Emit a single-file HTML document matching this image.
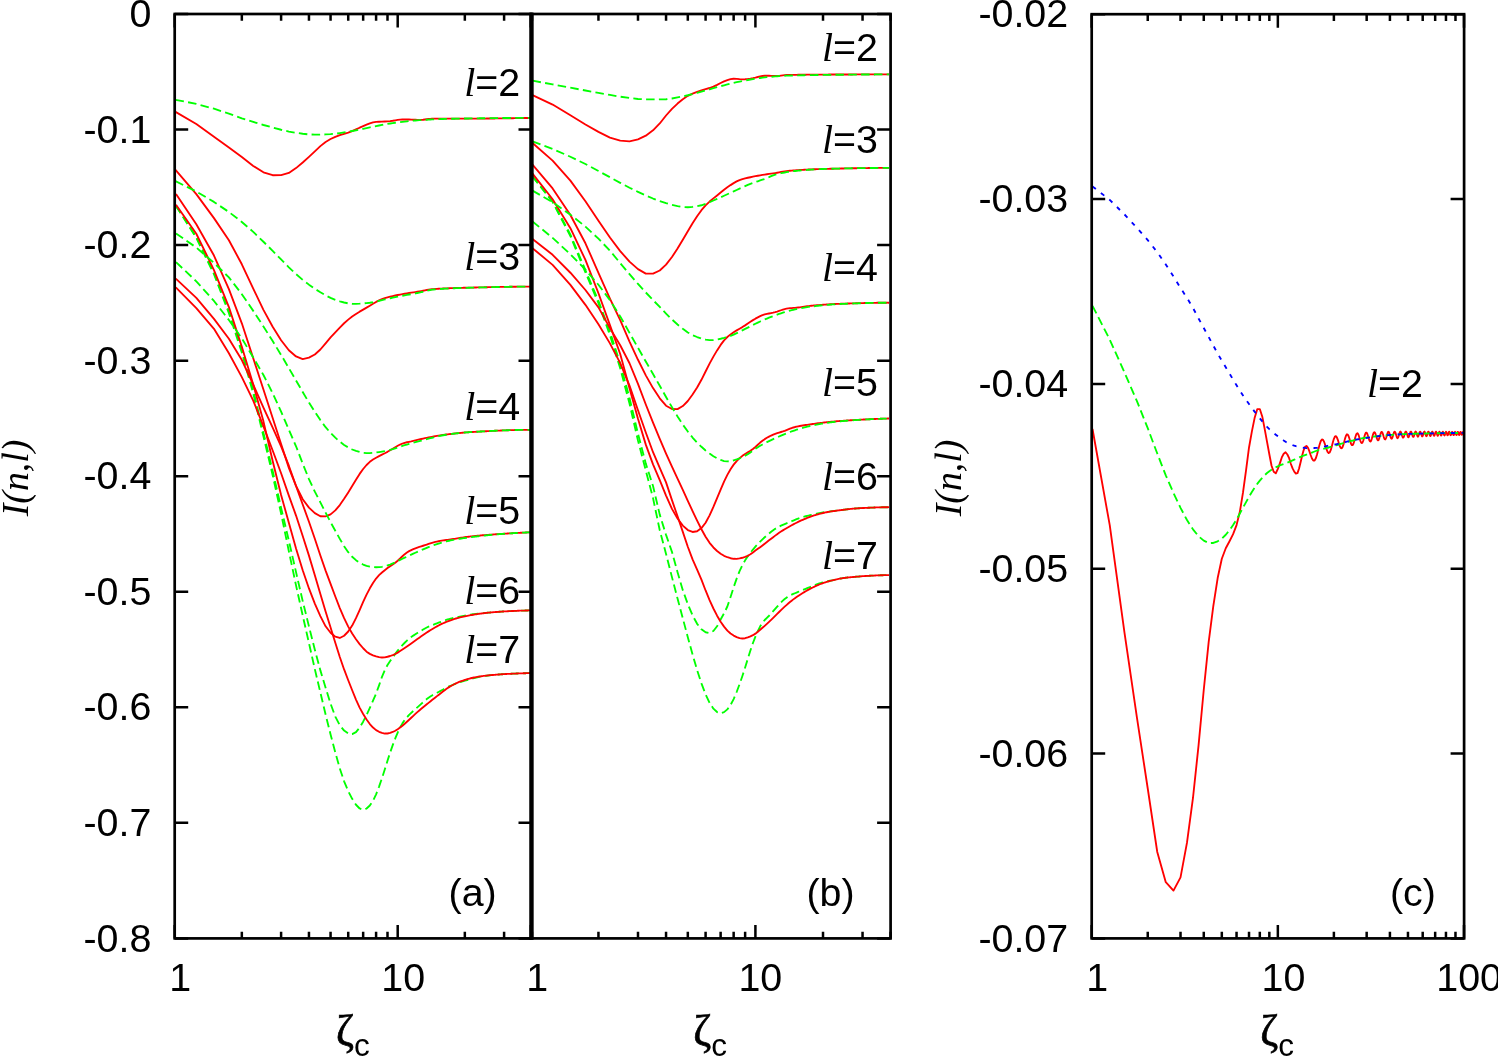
<!DOCTYPE html>
<html><head><meta charset="utf-8"><title>I(n,l) versus zeta_c</title>
<style>html,body{margin:0;padding:0;background:#fff}svg{display:block}.h{font-family:"Liberation Sans",sans-serif;font-size:39.4px;fill:#000}.t{font-family:"Liberation Serif",serif;font-style:italic;font-size:39.9px;fill:#000}.r{fill:none;stroke:#f00;stroke-width:1.85;stroke-linejoin:round}.g{fill:none;stroke:#0f0;stroke-width:1.85;stroke-dasharray:8.53 4.27;stroke-linejoin:round}.b{fill:none;stroke:#00f;stroke-width:1.85;stroke-dasharray:4.27 6.4;stroke-linejoin:round}</style></head><body>

<svg width="1498" height="1057" viewBox="0 0 1498 1057">
<rect width="1498" height="1057" fill="#fff"/>
<path class="g" d="M176 205.9 L196.31 237 L213.97 272.9 L228.9 311.17 L241.83 349.8 L253.24 390.19 L263.44 432.93 L272.67 470.96 L281.1 507.87 L288.85 540.71 L296.03 572.14 L302.71 601.16 L308.96 626.39 L314.83 649.68 L320.37 670.39 L325.6 687.69 L330.57 703.71 L335.3 716.67 L339.8 725.24 L344.11 730.55 L348.23 733.45 L352.18 734.07 L355.98 732.06 L359.63 727.66 L363.16 721.69 L366.56 714.92 L369.84 707.79 L373.01 700.69 L376.09 693.56 L379.07 685.32 L381.96 676.92 L384.77 670.16 L387.5 664.99 L390.15 660.96 L392.73 657.39 L395.25 653.9 L397.7 650.61 L400.09 647.68 L402.43 645.09 L404.7 642.76 L406.93 640.65 L409.11 638.77 L411.24 637.1 L413.32 635.61 L415.36 634.27 L417.35 633.02 L419.31 631.85 L421.23 630.7 L423.11 629.56 L424.95 628.48 L426.76 627.51 L428.54 626.69 L430.29 625.96 L432 625.29 L433.69 624.62 L435.34 623.97 L436.97 623.34 L438.57 622.73 L440.14 622.13 L441.69 621.55 L443.22 620.98 L444.72 620.45 L446.2 619.94 L447.66 619.47 L449.09 619.05 L450.5 618.66 L451.9 618.31 L453.27 617.98 L454.63 617.68 L455.96 617.39 L457.28 617.11 L458.58 616.85 L459.86 616.59 L461.13 616.33 L462.38 616.08 L463.61 615.83 L464.83 615.59 L466.03 615.36 L467.22 615.13 L468.4 614.92 L469.55 614.72 L470.7 614.54 L471.83 614.37 L472.95 614.22 L474.06 614.08 L475.15 613.95 L476.24 613.83 L477.31 613.71 L478.37 613.61 L479.41 613.5 L480.45 613.4 L481.47 613.3 L482.49 613.21 L483.49 613.11 L484.48 613.02 L485.47 612.92 L486.44 612.83 L487.4 612.74 L488.36 612.66 L489.3 612.57 L490.24 612.49 L491.17 612.41 L492.08 612.33 L492.99 612.26 L493.89 612.18 L494.79 612.11 L495.67 612.04 L496.55 611.97 L497.42 611.9 L498.28 611.84 L499.13 611.77 L499.98 611.71 L500.81 611.65 L501.65 611.59 L502.47 611.53 L503.29 611.48 L504.1 611.43 L504.9 611.38 L505.7 611.34 L506.49 611.3 L507.27 611.25 L508.05 611.22 L508.82 611.18 L509.59 611.14 L510.35 611.1 L511.1 611.07 L511.85 611.03 L512.59 611 L513.33 610.96 L514.06 610.93 L514.78 610.9 L515.51 610.87 L516.22 610.84 L516.93 610.81 L517.63 610.78 L518.33 610.75 L519.03 610.73 L519.72 610.7 L520.4 610.67 L521.08 610.65 L521.76 610.63 L522.43 610.61 L523.09 610.58 L523.75 610.56 L524.41 610.55 L525.06 610.53 L525.71 610.51 L526.35 610.49 L526.99 610.48 L527.63 610.46 L528.26 610.45 L528.88 610.44 L529.51 610.43 L530.13 610.42 L530.74 610.4 L531 610.4"/>
<path class="g" d="M176 205.9 L196.31 237.82 L213.97 274.21 L228.9 313.11 L241.83 352.58 L253.24 393.49 L263.44 436.28 L272.67 475.18 L281.1 513.55 L288.85 551.21 L296.03 585.41 L302.71 615.47 L308.96 643.12 L314.83 669.11 L320.37 692.54 L325.6 714.54 L330.57 734.43 L335.3 752.5 L339.8 768.44 L344.11 781.3 L348.23 791.19 L352.18 798.85 L355.98 804.74 L359.63 808.48 L363.16 809.77 L366.56 808.53 L369.84 805.52 L373.01 800.77 L376.09 794.32 L379.07 786.58 L381.96 778.23 L384.77 769.55 L387.5 760.79 L390.15 752.5 L392.73 745.09 L395.25 738.47 L397.7 732.57 L400.09 727.5 L402.43 723.37 L404.7 720.02 L406.93 717.28 L409.11 714.96 L411.24 712.9 L413.32 710.96 L415.36 709.11 L417.35 707.33 L419.31 705.58 L421.23 703.84 L423.11 702.15 L424.95 700.56 L426.76 699.09 L428.54 697.75 L430.29 696.52 L432 695.43 L433.69 694.46 L435.34 693.6 L436.97 692.79 L438.57 691.98 L440.14 691.15 L441.69 690.3 L443.22 689.45 L444.72 688.62 L446.2 687.85 L447.66 687.13 L449.09 686.46 L450.5 685.83 L451.9 685.24 L453.27 684.68 L454.63 684.15 L455.96 683.64 L457.28 683.16 L458.58 682.7 L459.86 682.26 L461.13 681.84 L462.38 681.44 L463.61 681.06 L464.83 680.69 L466.03 680.34 L467.22 680 L468.4 679.68 L469.55 679.35 L470.7 679.04 L471.83 678.73 L472.95 678.44 L474.06 678.15 L475.15 677.87 L476.24 677.6 L477.31 677.35 L478.37 677.11 L479.41 676.89 L480.45 676.68 L481.47 676.48 L482.49 676.31 L483.49 676.14 L484.48 675.99 L485.47 675.85 L486.44 675.71 L487.4 675.59 L488.36 675.47 L489.3 675.36 L490.24 675.26 L491.17 675.16 L492.08 675.07 L492.99 674.98 L493.89 674.9 L494.79 674.82 L495.67 674.74 L496.55 674.67 L497.42 674.59 L498.28 674.53 L499.13 674.46 L499.98 674.4 L500.81 674.34 L501.65 674.28 L502.47 674.23 L503.29 674.18 L504.1 674.13 L504.9 674.08 L505.7 674.04 L506.49 673.99 L507.27 673.95 L508.05 673.91 L508.82 673.88 L509.59 673.84 L510.35 673.8 L511.1 673.77 L511.85 673.73 L512.59 673.7 L513.33 673.66 L514.06 673.63 L514.78 673.6 L515.51 673.57 L516.22 673.54 L516.93 673.51 L517.63 673.48 L518.33 673.45 L519.03 673.43 L519.72 673.4 L520.4 673.37 L521.08 673.35 L521.76 673.33 L522.43 673.31 L523.09 673.28 L523.75 673.26 L524.41 673.25 L525.06 673.23 L525.71 673.21 L526.35 673.19 L526.99 673.18 L527.63 673.16 L528.26 673.15 L528.88 673.14 L529.51 673.13 L530.13 673.12 L530.74 673.1 L531 673.1"/>
<path class="r" d="M175.5 111.9 L196.31 124.07 L213.97 136.69 L228.9 147.6 L241.83 157.05 L253.24 165.95 L263.44 172.34 L272.67 175.23 L281.1 175.18 L288.85 172.95 L296.03 168.09 L302.71 162.46 L308.96 156.82 L314.83 151.37 L320.37 146.12 L325.6 141.96 L330.57 139.03 L335.3 136.79 L339.8 135.08 L344.11 133.81 L348.23 132.61 L352.18 131.18 L355.98 129.46 L359.63 127.71 L363.16 126.14 L366.56 124.7 L369.84 123.38 L373.01 122.41 L376.09 121.92 L379.07 121.73 L381.96 121.63 L384.77 121.54 L387.5 121.4 L390.15 121.15 L392.73 120.77 L395.25 120.34 L397.7 119.93 L400.09 119.63 L402.43 119.47 L404.7 119.44 L406.93 119.47 L409.11 119.54 L411.24 119.63 L413.32 119.71 L415.36 119.79 L417.35 119.84 L419.31 119.87 L421.23 119.83 L423.11 119.71 L424.95 119.5 L426.76 119.26 L428.54 119.01 L430.29 118.81 L432 118.68 L433.69 118.62 L435.34 118.6 L436.97 118.6 L438.57 118.6 L440.14 118.6 L441.69 118.6 L443.22 118.6 L444.72 118.6 L446.2 118.6 L447.66 118.6 L449.09 118.6 L450.5 118.6 L451.9 118.6 L453.27 118.6 L454.63 118.6 L455.96 118.6 L457.28 118.6 L458.58 118.6 L459.86 118.6 L461.13 118.6 L462.38 118.6 L463.61 118.6 L464.83 118.6 L466.03 118.6 L467.22 118.6 L468.4 118.6 L469.55 118.6 L470.7 118.6 L471.83 118.6 L472.95 118.6 L474.06 118.6 L475.15 118.59 L476.24 118.59 L477.31 118.59 L478.37 118.58 L479.41 118.58 L480.45 118.58 L481.47 118.57 L482.49 118.56 L483.49 118.56 L484.48 118.55 L485.47 118.55 L486.44 118.54 L487.4 118.53 L488.36 118.52 L489.3 118.52 L490.24 118.51 L491.17 118.5 L492.08 118.49 L492.99 118.48 L493.89 118.47 L494.79 118.46 L495.67 118.45 L496.55 118.44 L497.42 118.43 L498.28 118.42 L499.13 118.41 L499.98 118.4 L500.81 118.39 L501.65 118.38 L502.47 118.37 L503.29 118.36 L504.1 118.35 L504.9 118.34 L505.7 118.33 L506.49 118.31 L507.27 118.3 L508.05 118.29 L508.82 118.28 L509.59 118.27 L510.35 118.26 L511.1 118.25 L511.85 118.23 L512.59 118.22 L513.33 118.21 L514.06 118.2 L514.78 118.19 L515.51 118.18 L516.22 118.16 L516.93 118.15 L517.63 118.14 L518.33 118.13 L519.03 118.12 L519.72 118.1 L520.4 118.09 L521.08 118.08 L521.76 118.07 L522.43 118.06 L523.09 118.04 L523.75 118.03 L524.41 118.02 L525.06 118.01 L525.71 118 L526.35 117.99 L526.99 117.97 L527.63 117.96 L528.26 117.95 L528.88 117.94 L529.51 117.93 L530.13 117.92 L530.74 117.9 L531 117.9"/>
<path class="r" d="M175.5 169.8 L196.31 194.15 L213.97 218.13 L228.9 240.21 L241.83 264.27 L253.24 288.63 L263.44 309.86 L272.67 326.78 L281.1 340.24 L288.85 350.23 L296.03 356.43 L302.71 359.05 L308.96 357.65 L314.83 354.45 L320.37 349.5 L325.6 343.33 L330.57 337.41 L335.3 332.29 L339.8 327.56 L344.11 323.27 L348.23 319.64 L352.18 316.56 L355.98 313.94 L359.63 311.66 L363.16 309.59 L366.56 307.65 L369.84 305.74 L373.01 303.8 L376.09 301.92 L379.07 300.33 L381.96 299.13 L384.77 298.18 L387.5 297.39 L390.15 296.69 L392.73 296.08 L395.25 295.52 L397.7 295.01 L400.09 294.55 L402.43 294.13 L404.7 293.74 L406.93 293.37 L409.11 293.03 L411.24 292.69 L413.32 292.37 L415.36 292.05 L417.35 291.73 L419.31 291.4 L421.23 291.07 L423.11 290.72 L424.95 290.36 L426.76 290.02 L428.54 289.72 L430.29 289.45 L432 289.24 L433.69 289.09 L435.34 288.96 L436.97 288.85 L438.57 288.76 L440.14 288.67 L441.69 288.58 L443.22 288.5 L444.72 288.43 L446.2 288.36 L447.66 288.3 L449.09 288.24 L450.5 288.19 L451.9 288.13 L453.27 288.09 L454.63 288.04 L455.96 288 L457.28 287.96 L458.58 287.92 L459.86 287.88 L461.13 287.85 L462.38 287.81 L463.61 287.78 L464.83 287.75 L466.03 287.72 L467.22 287.69 L468.4 287.66 L469.55 287.63 L470.7 287.6 L471.83 287.58 L472.95 287.55 L474.06 287.52 L475.15 287.5 L476.24 287.47 L477.31 287.44 L478.37 287.42 L479.41 287.39 L480.45 287.37 L481.47 287.35 L482.49 287.32 L483.49 287.3 L484.48 287.28 L485.47 287.25 L486.44 287.23 L487.4 287.21 L488.36 287.19 L489.3 287.17 L490.24 287.15 L491.17 287.13 L492.08 287.11 L492.99 287.09 L493.89 287.07 L494.79 287.05 L495.67 287.04 L496.55 287.02 L497.42 287 L498.28 286.98 L499.13 286.97 L499.98 286.95 L500.81 286.94 L501.65 286.92 L502.47 286.91 L503.29 286.89 L504.1 286.88 L504.9 286.87 L505.7 286.85 L506.49 286.84 L507.27 286.83 L508.05 286.81 L508.82 286.8 L509.59 286.79 L510.35 286.78 L511.1 286.77 L511.85 286.76 L512.59 286.75 L513.33 286.74 L514.06 286.73 L514.78 286.72 L515.51 286.71 L516.22 286.71 L516.93 286.7 L517.63 286.69 L518.33 286.68 L519.03 286.68 L519.72 286.67 L520.4 286.66 L521.08 286.66 L521.76 286.65 L522.43 286.65 L523.09 286.64 L523.75 286.64 L524.41 286.63 L525.06 286.63 L525.71 286.62 L526.35 286.62 L526.99 286.62 L527.63 286.61 L528.26 286.61 L528.88 286.61 L529.51 286.61 L530.13 286.6 L530.74 286.6 L531 286.6"/>
<path class="r" d="M176 193.9 L196.31 224.23 L213.97 255.52 L228.9 289.19 L241.83 323.31 L253.24 358.24 L263.44 389.58 L272.67 417.96 L281.1 443.93 L288.85 467.87 L296.03 485.91 L302.71 499.26 L308.96 507.66 L314.83 513.17 L320.37 516.28 L325.6 516.42 L330.57 514.34 L335.3 510.4 L339.8 505.05 L344.11 498.83 L348.23 492.44 L352.18 486.03 L355.98 479.78 L359.63 473.91 L363.16 468.99 L366.56 464.98 L369.84 461.85 L373.01 459.54 L376.09 457.72 L379.07 456.12 L381.96 454.66 L384.77 453.27 L387.5 451.81 L390.15 450.25 L392.73 448.67 L395.25 447.19 L397.7 445.8 L400.09 444.54 L402.43 443.52 L404.7 442.79 L406.93 442.26 L409.11 441.84 L411.24 441.41 L413.32 440.93 L415.36 440.42 L417.35 439.91 L419.31 439.42 L421.23 438.98 L423.11 438.57 L424.95 438.18 L426.76 437.81 L428.54 437.46 L430.29 437.12 L432 436.79 L433.69 436.48 L435.34 436.19 L436.97 435.91 L438.57 435.65 L440.14 435.4 L441.69 435.16 L443.22 434.94 L444.72 434.74 L446.2 434.54 L447.66 434.36 L449.09 434.18 L450.5 434.01 L451.9 433.84 L453.27 433.68 L454.63 433.53 L455.96 433.38 L457.28 433.24 L458.58 433.1 L459.86 432.98 L461.13 432.86 L462.38 432.74 L463.61 432.63 L464.83 432.53 L466.03 432.43 L467.22 432.34 L468.4 432.26 L469.55 432.18 L470.7 432.11 L471.83 432.04 L472.95 431.97 L474.06 431.91 L475.15 431.85 L476.24 431.78 L477.31 431.72 L478.37 431.66 L479.41 431.6 L480.45 431.54 L481.47 431.48 L482.49 431.43 L483.49 431.37 L484.48 431.32 L485.47 431.26 L486.44 431.21 L487.4 431.16 L488.36 431.11 L489.3 431.06 L490.24 431.01 L491.17 430.97 L492.08 430.92 L492.99 430.87 L493.89 430.83 L494.79 430.79 L495.67 430.74 L496.55 430.7 L497.42 430.66 L498.28 430.62 L499.13 430.59 L499.98 430.55 L500.81 430.51 L501.65 430.48 L502.47 430.44 L503.29 430.41 L504.1 430.38 L504.9 430.35 L505.7 430.32 L506.49 430.29 L507.27 430.26 L508.05 430.23 L508.82 430.21 L509.59 430.18 L510.35 430.16 L511.1 430.13 L511.85 430.11 L512.59 430.09 L513.33 430.07 L514.06 430.05 L514.78 430.03 L515.51 430.01 L516.22 429.99 L516.93 429.97 L517.63 429.96 L518.33 429.94 L519.03 429.93 L519.72 429.91 L520.4 429.9 L521.08 429.89 L521.76 429.88 L522.43 429.87 L523.09 429.86 L523.75 429.85 L524.41 429.84 L525.06 429.84 L525.71 429.83 L526.35 429.82 L526.99 429.82 L527.63 429.81 L528.26 429.81 L528.88 429.81 L529.51 429.8 L530.13 429.8 L530.74 429.8 L531 429.8"/>
<path class="r" d="M176 204.7 L196.31 233.78 L213.97 270.04 L228.9 307.06 L241.83 346.75 L253.24 384.41 L263.44 421.34 L272.67 460.92 L281.1 495.05 L288.85 522.85 L296.03 548.48 L302.71 570.22 L308.96 588.44 L314.83 603.56 L320.37 616.05 L325.6 626.3 L330.57 632.73 L335.3 636.72 L339.8 637.95 L344.11 635.76 L348.23 631.5 L352.18 625.6 L355.98 618.13 L359.63 610.11 L363.16 601.92 L366.56 594.56 L369.84 588.33 L373.01 582.94 L376.09 578.54 L379.07 575.15 L381.96 572.47 L384.77 570.17 L387.5 568.09 L390.15 566.2 L392.73 564.44 L395.25 562.66 L397.7 560.7 L400.09 558.49 L402.43 556.22 L404.7 554.14 L406.93 552.44 L409.11 551.13 L411.24 550.06 L413.32 549.15 L415.36 548.35 L417.35 547.63 L419.31 546.98 L421.23 546.35 L423.11 545.75 L424.95 545.14 L426.76 544.54 L428.54 543.95 L430.29 543.37 L432 542.84 L433.69 542.35 L435.34 541.92 L436.97 541.54 L438.57 541.22 L440.14 540.94 L441.69 540.68 L443.22 540.45 L444.72 540.23 L446.2 540.02 L447.66 539.82 L449.09 539.63 L450.5 539.44 L451.9 539.24 L453.27 539.04 L454.63 538.83 L455.96 538.62 L457.28 538.41 L458.58 538.2 L459.86 537.99 L461.13 537.78 L462.38 537.58 L463.61 537.38 L464.83 537.2 L466.03 537.02 L467.22 536.86 L468.4 536.71 L469.55 536.56 L470.7 536.43 L471.83 536.31 L472.95 536.19 L474.06 536.07 L475.15 535.96 L476.24 535.86 L477.31 535.76 L478.37 535.66 L479.41 535.56 L480.45 535.47 L481.47 535.38 L482.49 535.29 L483.49 535.21 L484.48 535.13 L485.47 535.05 L486.44 534.97 L487.4 534.9 L488.36 534.82 L489.3 534.75 L490.24 534.68 L491.17 534.61 L492.08 534.55 L492.99 534.48 L493.89 534.42 L494.79 534.35 L495.67 534.29 L496.55 534.23 L497.42 534.17 L498.28 534.12 L499.13 534.06 L499.98 534 L500.81 533.95 L501.65 533.89 L502.47 533.84 L503.29 533.79 L504.1 533.73 L504.9 533.68 L505.7 533.63 L506.49 533.58 L507.27 533.54 L508.05 533.49 L508.82 533.44 L509.59 533.39 L510.35 533.35 L511.1 533.3 L511.85 533.26 L512.59 533.22 L513.33 533.17 L514.06 533.13 L514.78 533.09 L515.51 533.05 L516.22 533.01 L516.93 532.97 L517.63 532.93 L518.33 532.9 L519.03 532.86 L519.72 532.82 L520.4 532.79 L521.08 532.75 L521.76 532.72 L522.43 532.69 L523.09 532.66 L523.75 532.62 L524.41 532.59 L525.06 532.56 L525.71 532.53 L526.35 532.5 L526.99 532.47 L527.63 532.44 L528.26 532.42 L528.88 532.39 L529.51 532.36 L530.13 532.34 L530.74 532.31 L531 532.3"/>
<path class="r" d="M175.8 278.6 L196.31 297.91 L213.97 318.93 L228.9 338.69 L241.83 359.99 L253.24 384.67 L263.44 407.64 L272.67 427.72 L281.1 446.44 L288.85 465.69 L296.03 485.99 L302.71 504.48 L308.96 521.71 L314.83 538.69 L320.37 555.52 L325.6 570.61 L330.57 583.94 L335.3 596.46 L339.8 608.07 L344.11 618.13 L348.23 626.6 L352.18 633.51 L355.98 639.27 L359.63 644.08 L363.16 648.26 L366.56 651.64 L369.84 653.88 L373.01 655.36 L376.09 656.47 L379.07 657.2 L381.96 657.48 L384.77 657.3 L387.5 656.76 L390.15 656 L392.73 655.11 L395.25 654 L397.7 652.63 L400.09 651.09 L402.43 649.53 L404.7 648 L406.93 646.49 L409.11 644.97 L411.24 643.46 L413.32 641.98 L415.36 640.53 L417.35 639.11 L419.31 637.71 L421.23 636.34 L423.11 635.02 L424.95 633.75 L426.76 632.54 L428.54 631.39 L430.29 630.27 L432 629.21 L433.69 628.19 L435.34 627.23 L436.97 626.33 L438.57 625.49 L440.14 624.69 L441.69 623.94 L443.22 623.22 L444.72 622.55 L446.2 621.92 L447.66 621.33 L449.09 620.78 L450.5 620.27 L451.9 619.79 L453.27 619.34 L454.63 618.91 L455.96 618.51 L457.28 618.14 L458.58 617.78 L459.86 617.45 L461.13 617.14 L462.38 616.85 L463.61 616.57 L464.83 616.31 L466.03 616.06 L467.22 615.82 L468.4 615.59 L469.55 615.38 L470.7 615.17 L471.83 614.97 L472.95 614.78 L474.06 614.59 L475.15 614.41 L476.24 614.24 L477.31 614.07 L478.37 613.91 L479.41 613.76 L480.45 613.62 L481.47 613.48 L482.49 613.35 L483.49 613.22 L484.48 613.11 L485.47 613 L486.44 612.89 L487.4 612.79 L488.36 612.69 L489.3 612.6 L490.24 612.51 L491.17 612.43 L492.08 612.34 L492.99 612.26 L493.89 612.19 L494.79 612.11 L495.67 612.04 L496.55 611.97 L497.42 611.9 L498.28 611.83 L499.13 611.77 L499.98 611.71 L500.81 611.65 L501.65 611.59 L502.47 611.53 L503.29 611.48 L504.1 611.43 L504.9 611.38 L505.7 611.34 L506.49 611.3 L507.27 611.25 L508.05 611.22 L508.82 611.18 L509.59 611.14 L510.35 611.1 L511.1 611.07 L511.85 611.03 L512.59 611 L513.33 610.96 L514.06 610.93 L514.78 610.9 L515.51 610.87 L516.22 610.84 L516.93 610.81 L517.63 610.78 L518.33 610.75 L519.03 610.73 L519.72 610.7 L520.4 610.67 L521.08 610.65 L521.76 610.63 L522.43 610.61 L523.09 610.58 L523.75 610.56 L524.41 610.55 L525.06 610.53 L525.71 610.51 L526.35 610.49 L526.99 610.48 L527.63 610.46 L528.26 610.45 L528.88 610.44 L529.51 610.43 L530.13 610.42 L530.74 610.4 L531 610.4"/>
<path class="r" d="M175.8 287.4 L196.31 308.06 L213.97 328.84 L228.9 353.23 L241.83 377.13 L253.24 400.63 L263.44 426.39 L272.67 450.53 L281.1 473.21 L288.85 495.6 L296.03 515.57 L302.71 535.96 L308.96 555.63 L314.83 575.28 L320.37 594.06 L325.6 611.41 L330.57 627.49 L335.3 642.74 L339.8 657.05 L344.11 669.44 L348.23 680.27 L352.18 690.23 L355.98 699.61 L359.63 707.59 L363.16 714.04 L366.56 719.49 L369.84 724.07 L373.01 727.57 L376.09 730.13 L379.07 731.82 L381.96 732.93 L384.77 733.53 L387.5 733.51 L390.15 732.92 L392.73 731.97 L395.25 730.78 L397.7 729.29 L400.09 727.56 L402.43 725.72 L404.7 723.78 L406.93 721.76 L409.11 719.74 L411.24 717.76 L413.32 715.82 L415.36 713.93 L417.35 712.13 L419.31 710.44 L421.23 708.83 L423.11 707.29 L424.95 705.78 L426.76 704.31 L428.54 702.86 L430.29 701.45 L432 700.07 L433.69 698.72 L435.34 697.41 L436.97 696.14 L438.57 694.9 L440.14 693.69 L441.69 692.5 L443.22 691.33 L444.72 690.19 L446.2 689.1 L447.66 688.07 L449.09 687.13 L450.5 686.27 L451.9 685.47 L453.27 684.73 L454.63 684.04 L455.96 683.39 L457.28 682.78 L458.58 682.22 L459.86 681.7 L461.13 681.21 L462.38 680.76 L463.61 680.33 L464.83 679.93 L466.03 679.56 L467.22 679.2 L468.4 678.87 L469.55 678.56 L470.7 678.27 L471.83 678.01 L472.95 677.75 L474.06 677.52 L475.15 677.3 L476.24 677.08 L477.31 676.89 L478.37 676.7 L479.41 676.52 L480.45 676.36 L481.47 676.21 L482.49 676.06 L483.49 675.93 L484.48 675.81 L485.47 675.69 L486.44 675.58 L487.4 675.48 L488.36 675.38 L489.3 675.29 L490.24 675.2 L491.17 675.12 L492.08 675.04 L492.99 674.96 L493.89 674.89 L494.79 674.81 L495.67 674.74 L496.55 674.67 L497.42 674.6 L498.28 674.53 L499.13 674.47 L499.98 674.41 L500.81 674.35 L501.65 674.29 L502.47 674.23 L503.29 674.18 L504.1 674.13 L504.9 674.08 L505.7 674.04 L506.49 674 L507.27 673.95 L508.05 673.92 L508.82 673.88 L509.59 673.84 L510.35 673.8 L511.1 673.77 L511.85 673.73 L512.59 673.7 L513.33 673.66 L514.06 673.63 L514.78 673.6 L515.51 673.57 L516.22 673.54 L516.93 673.51 L517.63 673.48 L518.33 673.45 L519.03 673.43 L519.72 673.4 L520.4 673.37 L521.08 673.35 L521.76 673.33 L522.43 673.31 L523.09 673.28 L523.75 673.26 L524.41 673.25 L525.06 673.23 L525.71 673.21 L526.35 673.19 L526.99 673.18 L527.63 673.16 L528.26 673.15 L528.88 673.14 L529.51 673.13 L530.13 673.12 L530.74 673.1 L531 673.1"/>
<path class="g" d="M175.5 99.8 L196.31 103.91 L213.97 108.73 L228.9 113.6 L241.83 118.26 L253.24 121.95 L263.44 125.01 L272.67 127.53 L281.1 129.75 L288.85 131.56 L296.03 132.8 L302.71 133.71 L308.96 134.39 L314.83 134.67 L320.37 134.62 L325.6 134.43 L330.57 134.17 L335.3 133.73 L339.8 133.09 L344.11 132.41 L348.23 131.73 L352.18 131.02 L355.98 130.29 L359.63 129.57 L363.16 128.84 L366.56 128.11 L369.84 127.39 L373.01 126.71 L376.09 126.09 L379.07 125.51 L381.96 124.96 L384.77 124.44 L387.5 123.96 L390.15 123.51 L392.73 123.11 L395.25 122.76 L397.7 122.43 L400.09 122.13 L402.43 121.84 L404.7 121.58 L406.93 121.33 L409.11 121.09 L411.24 120.88 L413.32 120.68 L415.36 120.5 L417.35 120.34 L419.31 120.19 L421.23 120.06 L423.11 119.94 L424.95 119.82 L426.76 119.72 L428.54 119.61 L430.29 119.51 L432 119.42 L433.69 119.34 L435.34 119.26 L436.97 119.19 L438.57 119.12 L440.14 119.06 L441.69 119.01 L443.22 118.97 L444.72 118.93 L446.2 118.89 L447.66 118.86 L449.09 118.83 L450.5 118.8 L451.9 118.77 L453.27 118.75 L454.63 118.72 L455.96 118.69 L457.28 118.67 L458.58 118.64 L459.86 118.62 L461.13 118.6 L462.38 118.57 L463.61 118.55 L464.83 118.53 L466.03 118.51 L467.22 118.49 L468.4 118.47 L469.55 118.45 L470.7 118.43 L471.83 118.41 L472.95 118.39 L474.06 118.37 L475.15 118.36 L476.24 118.34 L477.31 118.33 L478.37 118.31 L479.41 118.29 L480.45 118.28 L481.47 118.27 L482.49 118.25 L483.49 118.24 L484.48 118.22 L485.47 118.21 L486.44 118.2 L487.4 118.19 L488.36 118.17 L489.3 118.16 L490.24 118.15 L491.17 118.14 L492.08 118.13 L492.99 118.12 L493.89 118.11 L494.79 118.1 L495.67 118.09 L496.55 118.08 L497.42 118.07 L498.28 118.07 L499.13 118.06 L499.98 118.05 L500.81 118.04 L501.65 118.03 L502.47 118.03 L503.29 118.02 L504.1 118.01 L504.9 118.01 L505.7 118 L506.49 117.99 L507.27 117.99 L508.05 117.98 L508.82 117.98 L509.59 117.97 L510.35 117.97 L511.1 117.96 L511.85 117.96 L512.59 117.95 L513.33 117.95 L514.06 117.95 L514.78 117.94 L515.51 117.94 L516.22 117.94 L516.93 117.93 L517.63 117.93 L518.33 117.93 L519.03 117.92 L519.72 117.92 L520.4 117.92 L521.08 117.92 L521.76 117.91 L522.43 117.91 L523.09 117.91 L523.75 117.91 L524.41 117.91 L525.06 117.91 L525.71 117.91 L526.35 117.9 L526.99 117.9 L527.63 117.9 L528.26 117.9 L528.88 117.9 L529.51 117.9 L530.13 117.9 L530.74 117.9 L531 117.9"/>
<path class="g" d="M175.5 181.2 L196.31 191.52 L213.97 201.92 L228.9 212.02 L241.83 221.94 L253.24 231.88 L263.44 241.75 L272.67 250.85 L281.1 259.45 L288.85 267.32 L296.03 274.13 L302.71 279.84 L308.96 284.64 L314.83 288.79 L320.37 292.28 L325.6 295.32 L330.57 297.94 L335.3 299.93 L339.8 301.34 L344.11 302.5 L348.23 303.36 L352.18 303.8 L355.98 303.84 L359.63 303.68 L363.16 303.42 L366.56 303.09 L369.84 302.73 L373.01 302.26 L376.09 301.63 L379.07 300.9 L381.96 300.15 L384.77 299.44 L387.5 298.8 L390.15 298.23 L392.73 297.69 L395.25 297.17 L397.7 296.67 L400.09 296.19 L402.43 295.73 L404.7 295.3 L406.93 294.89 L409.11 294.5 L411.24 294.12 L413.32 293.75 L415.36 293.38 L417.35 293.01 L419.31 292.62 L421.23 292.2 L423.11 291.74 L424.95 291.26 L426.76 290.79 L428.54 290.35 L430.29 289.98 L432 289.7 L433.69 289.49 L435.34 289.33 L436.97 289.2 L438.57 289.08 L440.14 288.96 L441.69 288.86 L443.22 288.77 L444.72 288.68 L446.2 288.6 L447.66 288.52 L449.09 288.45 L450.5 288.38 L451.9 288.32 L453.27 288.26 L454.63 288.21 L455.96 288.16 L457.28 288.11 L458.58 288.06 L459.86 288.02 L461.13 287.98 L462.38 287.94 L463.61 287.9 L464.83 287.87 L466.03 287.83 L467.22 287.8 L468.4 287.77 L469.55 287.73 L470.7 287.7 L471.83 287.67 L472.95 287.64 L474.06 287.61 L475.15 287.58 L476.24 287.55 L477.31 287.52 L478.37 287.49 L479.41 287.47 L480.45 287.44 L481.47 287.41 L482.49 287.38 L483.49 287.36 L484.48 287.33 L485.47 287.31 L486.44 287.28 L487.4 287.26 L488.36 287.23 L489.3 287.21 L490.24 287.19 L491.17 287.16 L492.08 287.14 L492.99 287.12 L493.89 287.1 L494.79 287.08 L495.67 287.06 L496.55 287.04 L497.42 287.02 L498.28 287 L499.13 286.98 L499.98 286.96 L500.81 286.95 L501.65 286.93 L502.47 286.91 L503.29 286.9 L504.1 286.88 L504.9 286.87 L505.7 286.85 L506.49 286.84 L507.27 286.82 L508.05 286.81 L508.82 286.8 L509.59 286.79 L510.35 286.77 L511.1 286.76 L511.85 286.75 L512.59 286.74 L513.33 286.73 L514.06 286.72 L514.78 286.71 L515.51 286.7 L516.22 286.69 L516.93 286.68 L517.63 286.68 L518.33 286.67 L519.03 286.66 L519.72 286.66 L520.4 286.65 L521.08 286.64 L521.76 286.64 L522.43 286.63 L523.09 286.63 L523.75 286.62 L524.41 286.62 L525.06 286.62 L525.71 286.61 L526.35 286.61 L526.99 286.61 L527.63 286.61 L528.26 286.61 L528.88 286.6 L529.51 286.6 L530.13 286.6 L530.74 286.6 L531 286.6"/>
<path class="g" d="M176 233.5 L196.31 247.55 L213.97 262.84 L228.9 277.38 L241.83 294.15 L253.24 310.86 L263.44 326.46 L272.67 341.1 L281.1 354.94 L288.85 368.13 L296.03 380.43 L302.71 392.01 L308.96 402.58 L314.83 411.81 L320.37 420.1 L325.6 427.19 L330.57 432.9 L335.3 437.68 L339.8 441.7 L344.11 444.92 L348.23 447.47 L352.18 449.49 L355.98 450.95 L359.63 452 L363.16 452.77 L366.56 453.12 L369.84 453.09 L373.01 452.85 L376.09 452.5 L379.07 452.07 L381.96 451.6 L384.77 451.1 L387.5 450.57 L390.15 449.93 L392.73 449.17 L395.25 448.34 L397.7 447.48 L400.09 446.65 L402.43 445.88 L404.7 445.19 L406.93 444.54 L409.11 443.93 L411.24 443.34 L413.32 442.77 L415.36 442.22 L417.35 441.69 L419.31 441.18 L421.23 440.67 L423.11 440.17 L424.95 439.68 L426.76 439.19 L428.54 438.7 L430.29 438.23 L432 437.78 L433.69 437.34 L435.34 436.93 L436.97 436.54 L438.57 436.17 L440.14 435.83 L441.69 435.51 L443.22 435.23 L444.72 434.97 L446.2 434.74 L447.66 434.52 L449.09 434.32 L450.5 434.13 L451.9 433.94 L453.27 433.77 L454.63 433.6 L455.96 433.44 L457.28 433.29 L458.58 433.14 L459.86 433.01 L461.13 432.88 L462.38 432.76 L463.61 432.65 L464.83 432.54 L466.03 432.44 L467.22 432.35 L468.4 432.27 L469.55 432.19 L470.7 432.11 L471.83 432.04 L472.95 431.97 L474.06 431.91 L475.15 431.84 L476.24 431.78 L477.31 431.71 L478.37 431.65 L479.41 431.59 L480.45 431.53 L481.47 431.47 L482.49 431.42 L483.49 431.36 L484.48 431.31 L485.47 431.25 L486.44 431.2 L487.4 431.15 L488.36 431.1 L489.3 431.05 L490.24 431 L491.17 430.95 L492.08 430.91 L492.99 430.86 L493.89 430.82 L494.79 430.77 L495.67 430.73 L496.55 430.69 L497.42 430.65 L498.28 430.61 L499.13 430.57 L499.98 430.54 L500.81 430.5 L501.65 430.47 L502.47 430.43 L503.29 430.4 L504.1 430.37 L504.9 430.34 L505.7 430.31 L506.49 430.28 L507.27 430.25 L508.05 430.22 L508.82 430.2 L509.59 430.17 L510.35 430.15 L511.1 430.12 L511.85 430.1 L512.59 430.08 L513.33 430.06 L514.06 430.04 L514.78 430.02 L515.51 430 L516.22 429.99 L516.93 429.97 L517.63 429.95 L518.33 429.94 L519.03 429.92 L519.72 429.91 L520.4 429.9 L521.08 429.89 L521.76 429.88 L522.43 429.87 L523.09 429.86 L523.75 429.85 L524.41 429.84 L525.06 429.83 L525.71 429.83 L526.35 429.82 L526.99 429.82 L527.63 429.81 L528.26 429.81 L528.88 429.81 L529.51 429.8 L530.13 429.8 L530.74 429.8 L531 429.8"/>
<path class="g" d="M176 262.1 L196.31 281.35 L213.97 300.95 L228.9 320.04 L241.83 338.4 L253.24 357.47 L263.44 374.96 L272.67 393.25 L281.1 411.62 L288.85 429.62 L296.03 446.27 L302.71 463.61 L308.96 479.07 L314.83 491.69 L320.37 502.33 L325.6 512.61 L330.57 522.18 L335.3 530.79 L339.8 538.84 L344.11 546.24 L348.23 552.19 L352.18 556.79 L355.98 560.17 L359.63 562.7 L363.16 564.52 L366.56 565.85 L369.84 566.66 L373.01 567.03 L376.09 567.21 L379.07 567.19 L381.96 566.85 L384.77 566.24 L387.5 565.46 L390.15 564.52 L392.73 563.42 L395.25 562.27 L397.7 561.1 L400.09 559.93 L402.43 558.78 L404.7 557.68 L406.93 556.63 L409.11 555.62 L411.24 554.63 L413.32 553.68 L415.36 552.76 L417.35 551.88 L419.31 551.03 L421.23 550.21 L423.11 549.4 L424.95 548.62 L426.76 547.85 L428.54 547.12 L430.29 546.42 L432 545.76 L433.69 545.14 L435.34 544.56 L436.97 544.03 L438.57 543.54 L440.14 543.07 L441.69 542.63 L443.22 542.21 L444.72 541.82 L446.2 541.44 L447.66 541.09 L449.09 540.76 L450.5 540.44 L451.9 540.15 L453.27 539.88 L454.63 539.62 L455.96 539.38 L457.28 539.15 L458.58 538.93 L459.86 538.73 L461.13 538.53 L462.38 538.34 L463.61 538.16 L464.83 537.99 L466.03 537.83 L467.22 537.67 L468.4 537.51 L469.55 537.36 L470.7 537.21 L471.83 537.07 L472.95 536.93 L474.06 536.79 L475.15 536.65 L476.24 536.52 L477.31 536.39 L478.37 536.27 L479.41 536.14 L480.45 536.02 L481.47 535.9 L482.49 535.79 L483.49 535.67 L484.48 535.56 L485.47 535.46 L486.44 535.35 L487.4 535.25 L488.36 535.15 L489.3 535.05 L490.24 534.96 L491.17 534.87 L492.08 534.78 L492.99 534.7 L493.89 534.61 L494.79 534.53 L495.67 534.46 L496.55 534.38 L497.42 534.31 L498.28 534.24 L499.13 534.17 L499.98 534.11 L500.81 534.04 L501.65 533.98 L502.47 533.92 L503.29 533.86 L504.1 533.8 L504.9 533.74 L505.7 533.68 L506.49 533.63 L507.27 533.57 L508.05 533.52 L508.82 533.47 L509.59 533.42 L510.35 533.37 L511.1 533.32 L511.85 533.27 L512.59 533.22 L513.33 533.17 L514.06 533.13 L514.78 533.08 L515.51 533.04 L516.22 533 L516.93 532.96 L517.63 532.92 L518.33 532.88 L519.03 532.84 L519.72 532.8 L520.4 532.76 L521.08 532.73 L521.76 532.69 L522.43 532.66 L523.09 532.63 L523.75 532.6 L524.41 532.57 L525.06 532.54 L525.71 532.51 L526.35 532.48 L526.99 532.45 L527.63 532.43 L528.26 532.4 L528.88 532.38 L529.51 532.36 L530.13 532.33 L530.74 532.31 L531 532.3"/>
<path class="g" d="M532.5 176.4 L552.61 201.36 L570.39 234.58 L585.43 270.24 L598.45 300.83 L609.94 331.7 L620.21 363.92 L629.51 398.05 L637.99 433.76 L645.8 463.61 L653.03 486.03 L659.75 514.62 L666.05 534.86 L671.96 551.87 L677.54 572.17 L682.81 590.14 L687.81 604.08 L692.57 615.39 L697.11 623.81 L701.44 629.36 L705.59 632.27 L709.57 633.01 L713.4 630.96 L717.08 626.22 L720.63 619.51 L724.05 613.38 L727.35 606.49 L730.55 597.01 L733.65 587.22 L736.65 578.58 L739.56 571.11 L742.39 565.11 L745.13 560.35 L747.81 556.33 L750.41 552.77 L752.94 549.55 L755.41 546.62 L757.82 543.98 L760.17 541.58 L762.46 539.37 L764.71 537.29 L766.9 535.35 L769.04 533.51 L771.14 531.78 L773.19 530.22 L775.2 528.84 L777.17 527.63 L779.1 526.57 L781 525.65 L782.85 524.82 L784.68 524.06 L786.47 523.32 L788.22 522.59 L789.95 521.88 L791.65 521.19 L793.31 520.52 L794.95 519.87 L796.57 519.23 L798.15 518.63 L799.71 518.06 L801.25 517.54 L802.76 517.07 L804.25 516.64 L805.71 516.25 L807.16 515.89 L808.58 515.54 L809.99 515.21 L811.37 514.88 L812.73 514.55 L814.08 514.22 L815.41 513.91 L816.72 513.6 L818.01 513.31 L819.28 513.04 L820.54 512.8 L821.78 512.58 L823.01 512.37 L824.22 512.19 L825.42 512.02 L826.6 511.85 L827.77 511.7 L828.92 511.55 L830.06 511.41 L831.19 511.28 L832.3 511.15 L833.41 511.02 L834.5 510.89 L835.57 510.76 L836.64 510.64 L837.69 510.51 L838.74 510.38 L839.77 510.25 L840.79 510.11 L841.8 509.98 L842.8 509.85 L843.79 509.72 L844.77 509.6 L845.74 509.48 L846.7 509.36 L847.65 509.25 L848.6 509.15 L849.53 509.05 L850.45 508.95 L851.37 508.87 L852.28 508.78 L853.18 508.7 L854.07 508.62 L854.95 508.54 L855.82 508.47 L856.69 508.4 L857.55 508.34 L858.4 508.28 L859.25 508.23 L860.08 508.18 L860.91 508.13 L861.74 508.08 L862.55 508.04 L863.36 508 L864.16 507.96 L864.96 507.92 L865.75 507.89 L866.53 507.85 L867.31 507.81 L868.08 507.78 L868.85 507.74 L869.61 507.71 L870.36 507.68 L871.11 507.64 L871.85 507.61 L872.58 507.58 L873.31 507.55 L874.04 507.53 L874.76 507.5 L875.47 507.47 L876.18 507.45 L876.89 507.42 L877.59 507.4 L878.28 507.38 L878.97 507.36 L879.65 507.34 L880.33 507.32 L881.01 507.31 L881.68 507.29 L882.34 507.28 L883.01 507.26 L883.66 507.25 L884.31 507.24 L884.96 507.23 L885.61 507.23 L886.25 507.22 L886.88 507.21 L887.51 507.21 L888.14 507.2 L888.76 507.2 L889 507.2"/>
<path class="g" d="M532.5 176.4 L552.61 201.98 L570.39 236.1 L585.43 272.33 L598.45 303.26 L609.94 335.26 L620.21 368.29 L629.51 403.61 L637.99 440.5 L645.8 470.5 L653.03 498.1 L659.75 530.19 L666.05 553.89 L671.96 577.12 L677.54 598.6 L682.81 618.37 L687.81 637.18 L692.57 654.53 L697.11 670.09 L701.44 683.41 L705.59 694.32 L709.57 702.77 L713.4 708.64 L717.08 712.03 L720.63 713.24 L724.05 712.11 L727.35 709.38 L730.55 705 L733.65 699.07 L736.65 691.99 L739.56 684.15 L742.39 675.96 L745.13 667.48 L747.81 658.8 L750.41 650.43 L752.94 643.01 L755.41 636.61 L757.82 631.04 L760.17 626.32 L762.46 622.69 L764.71 620.02 L766.9 617.85 L769.04 615.75 L771.14 613.52 L773.19 611.2 L775.2 608.91 L777.17 606.69 L779.1 604.55 L781 602.52 L782.85 600.64 L784.68 599 L786.47 597.64 L788.22 596.51 L789.95 595.54 L791.65 594.69 L793.31 593.93 L794.95 593.23 L796.57 592.56 L798.15 591.91 L799.71 591.27 L801.25 590.63 L802.76 590.01 L804.25 589.4 L805.71 588.79 L807.16 588.19 L808.58 587.61 L809.99 587.03 L811.37 586.47 L812.73 585.93 L814.08 585.39 L815.41 584.86 L816.72 584.36 L818.01 583.88 L819.28 583.43 L820.54 583.03 L821.78 582.67 L823.01 582.33 L824.22 582.03 L825.42 581.76 L826.6 581.5 L827.77 581.25 L828.92 581.01 L830.06 580.78 L831.19 580.55 L832.3 580.31 L833.41 580.08 L834.5 579.84 L835.57 579.61 L836.64 579.37 L837.69 579.14 L838.74 578.91 L839.77 578.7 L840.79 578.5 L841.8 578.31 L842.8 578.14 L843.79 577.99 L844.77 577.85 L845.74 577.73 L846.7 577.62 L847.65 577.52 L848.6 577.42 L849.53 577.33 L850.45 577.24 L851.37 577.16 L852.28 577.08 L853.18 577.01 L854.07 576.93 L854.95 576.85 L855.82 576.78 L856.69 576.7 L857.55 576.63 L858.4 576.55 L859.25 576.48 L860.08 576.4 L860.91 576.33 L861.74 576.27 L862.55 576.2 L863.36 576.14 L864.16 576.08 L864.96 576.03 L865.75 575.98 L866.53 575.93 L867.31 575.88 L868.08 575.84 L868.85 575.8 L869.61 575.76 L870.36 575.72 L871.11 575.69 L871.85 575.65 L872.58 575.62 L873.31 575.58 L874.04 575.55 L874.76 575.52 L875.47 575.48 L876.18 575.45 L876.89 575.42 L877.59 575.4 L878.28 575.37 L878.97 575.34 L879.65 575.32 L880.33 575.29 L881.01 575.27 L881.68 575.25 L882.34 575.23 L883.01 575.21 L883.66 575.2 L884.31 575.18 L884.96 575.17 L885.61 575.15 L886.25 575.14 L886.88 575.13 L887.51 575.12 L888.14 575.11 L888.76 575.1 L889 575.1"/>
<path class="r" d="M532.5 95.2 L552.61 104.56 L570.39 115.33 L585.43 124.44 L598.45 131.89 L609.94 137.62 L620.21 140.64 L629.51 141.41 L637.99 139.38 L645.8 135.69 L653.03 130.36 L659.75 123.47 L666.05 115.5 L671.96 108.89 L677.54 103.56 L682.81 99.17 L687.81 95.84 L692.57 93.58 L697.11 91.85 L701.44 90.38 L705.59 89.16 L709.57 88.01 L713.4 86.66 L717.08 84.93 L720.63 83.02 L724.05 81.35 L727.35 80.04 L730.55 79.08 L733.65 78.72 L736.65 78.87 L739.56 79.15 L742.39 79.32 L745.13 79.24 L747.81 78.95 L750.41 78.55 L752.94 78.1 L755.41 77.59 L757.82 77.01 L760.17 76.44 L762.46 75.98 L764.71 75.73 L766.9 75.68 L769.04 75.76 L771.14 75.88 L773.19 76 L775.2 76.04 L777.17 75.99 L779.1 75.84 L781 75.63 L782.85 75.4 L784.68 75.19 L786.47 75.03 L788.22 74.93 L789.95 74.89 L791.65 74.86 L793.31 74.84 L794.95 74.82 L796.57 74.8 L798.15 74.79 L799.71 74.77 L801.25 74.76 L802.76 74.74 L804.25 74.73 L805.71 74.71 L807.16 74.7 L808.58 74.69 L809.99 74.68 L811.37 74.66 L812.73 74.65 L814.08 74.64 L815.41 74.63 L816.72 74.62 L818.01 74.61 L819.28 74.6 L820.54 74.6 L821.78 74.59 L823.01 74.58 L824.22 74.57 L825.42 74.56 L826.6 74.56 L827.77 74.55 L828.92 74.54 L830.06 74.54 L831.19 74.53 L832.3 74.53 L833.41 74.52 L834.5 74.51 L835.57 74.51 L836.64 74.5 L837.69 74.5 L838.74 74.49 L839.77 74.49 L840.79 74.49 L841.8 74.48 L842.8 74.48 L843.79 74.47 L844.77 74.47 L845.74 74.47 L846.7 74.46 L847.65 74.46 L848.6 74.46 L849.53 74.45 L850.45 74.45 L851.37 74.45 L852.28 74.45 L853.18 74.44 L854.07 74.44 L854.95 74.44 L855.82 74.44 L856.69 74.43 L857.55 74.43 L858.4 74.43 L859.25 74.43 L860.08 74.43 L860.91 74.43 L861.74 74.42 L862.55 74.42 L863.36 74.42 L864.16 74.42 L864.96 74.42 L865.75 74.42 L866.53 74.42 L867.31 74.41 L868.08 74.41 L868.85 74.41 L869.61 74.41 L870.36 74.41 L871.11 74.41 L871.85 74.41 L872.58 74.41 L873.31 74.41 L874.04 74.41 L874.76 74.41 L875.47 74.41 L876.18 74.4 L876.89 74.4 L877.59 74.4 L878.28 74.4 L878.97 74.4 L879.65 74.4 L880.33 74.4 L881.01 74.4 L881.68 74.4 L882.34 74.4 L883.01 74.4 L883.66 74.4 L884.31 74.4 L884.96 74.4 L885.61 74.4 L886.25 74.4 L886.88 74.4 L887.51 74.4 L888.14 74.4 L888.76 74.4 L889 74.4"/>
<path class="r" d="M532.5 143 L552.61 160.63 L570.39 180.6 L585.43 201.28 L598.45 220.72 L609.94 237.48 L620.21 251.1 L629.51 261.66 L637.99 269.15 L645.8 273.61 L653.03 273.59 L659.75 270.52 L666.05 264.67 L671.96 257.04 L677.54 248.56 L682.81 239.68 L687.81 231.16 L692.57 223.19 L697.11 216.23 L701.44 210.19 L705.59 205.32 L709.57 201.55 L713.4 198.4 L717.08 195.44 L720.63 192.52 L724.05 189.77 L727.35 187.3 L730.55 185.11 L733.65 183.12 L736.65 181.4 L739.56 180.06 L742.39 179.1 L745.13 178.37 L747.81 177.77 L750.41 177.23 L752.94 176.71 L755.41 176.21 L757.82 175.74 L760.17 175.31 L762.46 174.91 L764.71 174.55 L766.9 174.23 L769.04 173.93 L771.14 173.64 L773.19 173.36 L775.2 173.05 L777.17 172.72 L779.1 172.37 L781 172.01 L782.85 171.68 L784.68 171.38 L786.47 171.12 L788.22 170.92 L789.95 170.76 L791.65 170.61 L793.31 170.48 L794.95 170.36 L796.57 170.24 L798.15 170.13 L799.71 170.03 L801.25 169.93 L802.76 169.84 L804.25 169.76 L805.71 169.68 L807.16 169.6 L808.58 169.53 L809.99 169.46 L811.37 169.4 L812.73 169.34 L814.08 169.29 L815.41 169.23 L816.72 169.18 L818.01 169.14 L819.28 169.09 L820.54 169.05 L821.78 169.01 L823.01 168.98 L824.22 168.94 L825.42 168.91 L826.6 168.88 L827.77 168.85 L828.92 168.82 L830.06 168.79 L831.19 168.76 L832.3 168.74 L833.41 168.71 L834.5 168.68 L835.57 168.66 L836.64 168.63 L837.69 168.61 L838.74 168.58 L839.77 168.56 L840.79 168.54 L841.8 168.51 L842.8 168.49 L843.79 168.47 L844.77 168.45 L845.74 168.43 L846.7 168.41 L847.65 168.39 L848.6 168.37 L849.53 168.35 L850.45 168.33 L851.37 168.31 L852.28 168.29 L853.18 168.28 L854.07 168.26 L854.95 168.24 L855.82 168.23 L856.69 168.21 L857.55 168.2 L858.4 168.18 L859.25 168.17 L860.08 168.15 L860.91 168.14 L861.74 168.13 L862.55 168.12 L863.36 168.1 L864.16 168.09 L864.96 168.08 L865.75 168.07 L866.53 168.06 L867.31 168.05 L868.08 168.04 L868.85 168.03 L869.61 168.02 L870.36 168.01 L871.11 168 L871.85 168 L872.58 167.99 L873.31 167.98 L874.04 167.97 L874.76 167.97 L875.47 167.96 L876.18 167.95 L876.89 167.95 L877.59 167.94 L878.28 167.94 L878.97 167.93 L879.65 167.93 L880.33 167.93 L881.01 167.92 L881.68 167.92 L882.34 167.92 L883.01 167.91 L883.66 167.91 L884.31 167.91 L884.96 167.91 L885.61 167.91 L886.25 167.9 L886.88 167.9 L887.51 167.9 L888.14 167.9 L888.76 167.9 L889 167.9"/>
<path class="r" d="M532.5 164.7 L552.61 188.43 L570.39 214.95 L585.43 243.28 L598.45 272.81 L609.94 298.53 L620.21 320.22 L629.51 341.59 L637.99 359.77 L645.8 375.37 L653.03 388.09 L659.75 398.31 L666.05 405.71 L671.96 408.98 L677.54 409.09 L682.81 406.07 L687.81 400.99 L692.57 394.46 L697.11 387.49 L701.44 379.83 L705.59 371.51 L709.57 363.63 L713.4 356.6 L717.08 350.38 L720.63 344.92 L724.05 340.38 L727.35 336.99 L730.55 334.39 L733.65 332.22 L736.65 330.36 L739.56 328.71 L742.39 327.08 L745.13 325.36 L747.81 323.55 L750.41 321.77 L752.94 320.14 L755.41 318.67 L757.82 317.33 L760.17 316.14 L762.46 315.18 L764.71 314.46 L766.9 313.91 L769.04 313.47 L771.14 313.06 L773.19 312.65 L775.2 312.16 L777.17 311.59 L779.1 310.93 L781 310.25 L782.85 309.61 L784.68 309.08 L786.47 308.67 L788.22 308.4 L789.95 308.2 L791.65 308.06 L793.31 307.93 L794.95 307.81 L796.57 307.68 L798.15 307.53 L799.71 307.35 L801.25 307.15 L802.76 306.93 L804.25 306.71 L805.71 306.48 L807.16 306.27 L808.58 306.09 L809.99 305.92 L811.37 305.77 L812.73 305.64 L814.08 305.51 L815.41 305.39 L816.72 305.28 L818.01 305.17 L819.28 305.06 L820.54 304.96 L821.78 304.86 L823.01 304.76 L824.22 304.67 L825.42 304.59 L826.6 304.51 L827.77 304.43 L828.92 304.35 L830.06 304.28 L831.19 304.22 L832.3 304.15 L833.41 304.1 L834.5 304.04 L835.57 303.99 L836.64 303.94 L837.69 303.89 L838.74 303.85 L839.77 303.81 L840.79 303.77 L841.8 303.74 L842.8 303.7 L843.79 303.67 L844.77 303.63 L845.74 303.6 L846.7 303.57 L847.65 303.54 L848.6 303.5 L849.53 303.47 L850.45 303.44 L851.37 303.41 L852.28 303.38 L853.18 303.36 L854.07 303.33 L854.95 303.3 L855.82 303.27 L856.69 303.25 L857.55 303.22 L858.4 303.2 L859.25 303.17 L860.08 303.15 L860.91 303.13 L861.74 303.11 L862.55 303.08 L863.36 303.06 L864.16 303.04 L864.96 303.02 L865.75 303 L866.53 302.99 L867.31 302.97 L868.08 302.95 L868.85 302.93 L869.61 302.92 L870.36 302.9 L871.11 302.89 L871.85 302.87 L872.58 302.86 L873.31 302.85 L874.04 302.83 L874.76 302.82 L875.47 302.81 L876.18 302.8 L876.89 302.79 L877.59 302.78 L878.28 302.77 L878.97 302.76 L879.65 302.76 L880.33 302.75 L881.01 302.74 L881.68 302.74 L882.34 302.73 L883.01 302.72 L883.66 302.72 L884.31 302.72 L884.96 302.71 L885.61 302.71 L886.25 302.71 L886.88 302.71 L887.51 302.7 L888.14 302.7 L888.76 302.7 L889 302.7"/>
<path class="r" d="M532.5 173.6 L552.61 199.25 L570.39 228.15 L585.43 259.95 L598.45 293.26 L609.94 325.07 L620.21 354.05 L629.51 388.22 L637.99 418.77 L645.8 444.64 L653.03 464.35 L659.75 480.09 L666.05 495.56 L671.96 508.9 L677.54 518.54 L682.81 525.58 L687.81 530.03 L692.57 531.97 L697.11 531.27 L701.44 528.07 L705.59 522.7 L709.57 515.32 L713.4 506.97 L717.08 498.14 L720.63 489.58 L724.05 481.62 L727.35 474.85 L730.55 469.2 L733.65 464.63 L736.65 461.04 L739.56 458.17 L742.39 455.85 L745.13 453.99 L747.81 452.39 L750.41 450.82 L752.94 449.03 L755.41 446.96 L757.82 444.72 L760.17 442.58 L762.46 440.71 L764.71 439.14 L766.9 437.79 L769.04 436.59 L771.14 435.54 L773.19 434.63 L775.2 433.85 L777.17 433.17 L779.1 432.57 L781 432 L782.85 431.41 L784.68 430.78 L786.47 430.1 L788.22 429.4 L789.95 428.7 L791.65 428.05 L793.31 427.49 L794.95 427.02 L796.57 426.63 L798.15 426.29 L799.71 425.99 L801.25 425.72 L802.76 425.47 L804.25 425.24 L805.71 425.02 L807.16 424.8 L808.58 424.6 L809.99 424.4 L811.37 424.21 L812.73 424.01 L814.08 423.82 L815.41 423.64 L816.72 423.46 L818.01 423.29 L819.28 423.12 L820.54 422.96 L821.78 422.81 L823.01 422.66 L824.22 422.51 L825.42 422.37 L826.6 422.24 L827.77 422.12 L828.92 422 L830.06 421.88 L831.19 421.77 L832.3 421.67 L833.41 421.57 L834.5 421.47 L835.57 421.38 L836.64 421.29 L837.69 421.2 L838.74 421.12 L839.77 421.03 L840.79 420.95 L841.8 420.87 L842.8 420.8 L843.79 420.73 L844.77 420.66 L845.74 420.59 L846.7 420.52 L847.65 420.45 L848.6 420.39 L849.53 420.33 L850.45 420.27 L851.37 420.21 L852.28 420.16 L853.18 420.1 L854.07 420.05 L854.95 420 L855.82 419.94 L856.69 419.9 L857.55 419.85 L858.4 419.8 L859.25 419.76 L860.08 419.71 L860.91 419.67 L861.74 419.62 L862.55 419.58 L863.36 419.54 L864.16 419.5 L864.96 419.46 L865.75 419.42 L866.53 419.38 L867.31 419.34 L868.08 419.31 L868.85 419.27 L869.61 419.23 L870.36 419.2 L871.11 419.16 L871.85 419.13 L872.58 419.1 L873.31 419.07 L874.04 419.03 L874.76 419 L875.47 418.97 L876.18 418.94 L876.89 418.91 L877.59 418.89 L878.28 418.86 L878.97 418.83 L879.65 418.81 L880.33 418.78 L881.01 418.76 L881.68 418.73 L882.34 418.71 L883.01 418.69 L883.66 418.66 L884.31 418.64 L884.96 418.62 L885.61 418.6 L886.25 418.58 L886.88 418.56 L887.51 418.54 L888.14 418.52 L888.76 418.51 L889 418.5"/>
<path class="r" d="M532.5 239 L552.61 254.84 L570.39 272.73 L585.43 290.01 L598.45 307.36 L609.94 328.11 L620.21 345.25 L629.51 363.24 L637.99 383.88 L645.8 404.51 L653.03 422.67 L659.75 438.97 L666.05 453.64 L671.96 466.72 L677.54 478.57 L682.81 489.87 L687.81 500.82 L692.57 511.06 L697.11 520.55 L701.44 529.24 L705.59 536.71 L709.57 542.81 L713.4 547.46 L717.08 550.96 L720.63 553.71 L724.05 555.82 L727.35 557.23 L730.55 558.23 L733.65 558.79 L736.65 558.83 L739.56 558.44 L742.39 557.76 L745.13 556.9 L747.81 555.73 L750.41 554.19 L752.94 552.43 L755.41 550.62 L757.82 548.87 L760.17 547.14 L762.46 545.4 L764.71 543.68 L766.9 542 L769.04 540.35 L771.14 538.73 L773.19 537.15 L775.2 535.62 L777.17 534.16 L779.1 532.81 L781 531.55 L782.85 530.37 L784.68 529.26 L786.47 528.21 L788.22 527.2 L789.95 526.23 L791.65 525.3 L793.31 524.4 L794.95 523.53 L796.57 522.7 L798.15 521.91 L799.71 521.16 L801.25 520.45 L802.76 519.78 L804.25 519.14 L805.71 518.53 L807.16 517.95 L808.58 517.4 L809.99 516.87 L811.37 516.37 L812.73 515.9 L814.08 515.46 L815.41 515.04 L816.72 514.65 L818.01 514.28 L819.28 513.93 L820.54 513.61 L821.78 513.29 L823.01 513 L824.22 512.73 L825.42 512.47 L826.6 512.24 L827.77 512.02 L828.92 511.81 L830.06 511.62 L831.19 511.44 L832.3 511.27 L833.41 511.11 L834.5 510.96 L835.57 510.81 L836.64 510.66 L837.69 510.52 L838.74 510.38 L839.77 510.24 L840.79 510.1 L841.8 509.97 L842.8 509.84 L843.79 509.71 L844.77 509.59 L845.74 509.47 L846.7 509.35 L847.65 509.25 L848.6 509.14 L849.53 509.05 L850.45 508.95 L851.37 508.86 L852.28 508.78 L853.18 508.7 L854.07 508.62 L854.95 508.54 L855.82 508.47 L856.69 508.4 L857.55 508.34 L858.4 508.28 L859.25 508.23 L860.08 508.18 L860.91 508.13 L861.74 508.08 L862.55 508.04 L863.36 508 L864.16 507.96 L864.96 507.92 L865.75 507.89 L866.53 507.85 L867.31 507.81 L868.08 507.78 L868.85 507.74 L869.61 507.71 L870.36 507.68 L871.11 507.64 L871.85 507.61 L872.58 507.58 L873.31 507.55 L874.04 507.53 L874.76 507.5 L875.47 507.47 L876.18 507.45 L876.89 507.42 L877.59 507.4 L878.28 507.38 L878.97 507.36 L879.65 507.34 L880.33 507.32 L881.01 507.31 L881.68 507.29 L882.34 507.28 L883.01 507.26 L883.66 507.25 L884.31 507.24 L884.96 507.23 L885.61 507.23 L886.25 507.22 L886.88 507.21 L887.51 507.21 L888.14 507.2 L888.76 507.2 L889 507.2"/>
<path class="r" d="M532.5 248.2 L552.61 264.85 L570.39 284.84 L585.43 304.86 L598.45 324.31 L609.94 343.37 L620.21 363.12 L629.51 385.67 L637.99 410.22 L645.8 432.53 L653.03 452.21 L659.75 467.94 L666.05 482.37 L671.96 500.1 L677.54 516.32 L682.81 531.92 L687.81 546.76 L692.57 559.44 L697.11 569.54 L701.44 579.59 L705.59 590.46 L709.57 600.22 L713.4 608.5 L717.08 615.66 L720.63 621.76 L724.05 626.65 L727.35 630.57 L730.55 633.52 L733.65 635.57 L736.65 637.11 L739.56 638.14 L742.39 638.51 L745.13 638.22 L747.81 637.45 L750.41 636.4 L752.94 635.17 L755.41 633.65 L757.82 631.8 L760.17 629.8 L762.46 627.8 L764.71 625.82 L766.9 623.83 L769.04 621.84 L771.14 619.84 L773.19 617.85 L775.2 615.85 L777.17 613.89 L779.1 611.98 L781 610.14 L782.85 608.38 L784.68 606.69 L786.47 605.08 L788.22 603.54 L789.95 602.07 L791.65 600.68 L793.31 599.38 L794.95 598.17 L796.57 597.02 L798.15 595.93 L799.71 594.9 L801.25 593.92 L802.76 592.98 L804.25 592.09 L805.71 591.23 L807.16 590.42 L808.58 589.64 L809.99 588.89 L811.37 588.18 L812.73 587.5 L814.08 586.84 L815.41 586.21 L816.72 585.61 L818.01 585.03 L819.28 584.5 L820.54 584 L821.78 583.53 L823.01 583.1 L824.22 582.69 L825.42 582.3 L826.6 581.93 L827.77 581.58 L828.92 581.26 L830.06 580.94 L831.19 580.64 L832.3 580.36 L833.41 580.09 L834.5 579.82 L835.57 579.57 L836.64 579.33 L837.69 579.1 L838.74 578.87 L839.77 578.67 L840.79 578.47 L841.8 578.29 L842.8 578.13 L843.79 577.98 L844.77 577.85 L845.74 577.73 L846.7 577.62 L847.65 577.52 L848.6 577.42 L849.53 577.33 L850.45 577.24 L851.37 577.16 L852.28 577.08 L853.18 577.01 L854.07 576.93 L854.95 576.85 L855.82 576.78 L856.69 576.7 L857.55 576.63 L858.4 576.55 L859.25 576.48 L860.08 576.4 L860.91 576.33 L861.74 576.27 L862.55 576.2 L863.36 576.14 L864.16 576.08 L864.96 576.03 L865.75 575.98 L866.53 575.93 L867.31 575.88 L868.08 575.84 L868.85 575.8 L869.61 575.76 L870.36 575.72 L871.11 575.69 L871.85 575.65 L872.58 575.62 L873.31 575.58 L874.04 575.55 L874.76 575.52 L875.47 575.48 L876.18 575.45 L876.89 575.42 L877.59 575.4 L878.28 575.37 L878.97 575.34 L879.65 575.32 L880.33 575.29 L881.01 575.27 L881.68 575.25 L882.34 575.23 L883.01 575.21 L883.66 575.2 L884.31 575.18 L884.96 575.17 L885.61 575.15 L886.25 575.14 L886.88 575.13 L887.51 575.12 L888.14 575.11 L888.76 575.1 L889 575.1"/>
<path class="g" d="M532.5 80.7 L552.61 84.36 L570.39 87.66 L585.43 90.5 L598.45 92.89 L609.94 94.96 L620.21 96.69 L629.51 97.95 L637.99 98.99 L645.8 99.39 L653.03 99.4 L659.75 99.4 L666.05 99.22 L671.96 98.47 L677.54 97.44 L682.81 96.41 L687.81 95.27 L692.57 94.03 L697.11 92.79 L701.44 91.61 L705.59 90.45 L709.57 89.29 L713.4 88.18 L717.08 87.13 L720.63 86.17 L724.05 85.28 L727.35 84.44 L730.55 83.64 L733.65 82.9 L736.65 82.22 L739.56 81.6 L742.39 81.03 L745.13 80.49 L747.81 79.98 L750.41 79.5 L752.94 79.06 L755.41 78.65 L757.82 78.29 L760.17 77.96 L762.46 77.68 L764.71 77.43 L766.9 77.2 L769.04 76.98 L771.14 76.77 L773.19 76.58 L775.2 76.4 L777.17 76.24 L779.1 76.09 L781 75.96 L782.85 75.85 L784.68 75.75 L786.47 75.67 L788.22 75.61 L789.95 75.55 L791.65 75.5 L793.31 75.45 L794.95 75.41 L796.57 75.37 L798.15 75.33 L799.71 75.3 L801.25 75.27 L802.76 75.24 L804.25 75.21 L805.71 75.18 L807.16 75.15 L808.58 75.13 L809.99 75.11 L811.37 75.09 L812.73 75.07 L814.08 75.05 L815.41 75.03 L816.72 75.01 L818.01 74.99 L819.28 74.98 L820.54 74.96 L821.78 74.95 L823.01 74.93 L824.22 74.92 L825.42 74.9 L826.6 74.89 L827.77 74.88 L828.92 74.86 L830.06 74.85 L831.19 74.84 L832.3 74.83 L833.41 74.81 L834.5 74.8 L835.57 74.79 L836.64 74.78 L837.69 74.77 L838.74 74.75 L839.77 74.74 L840.79 74.73 L841.8 74.72 L842.8 74.71 L843.79 74.7 L844.77 74.69 L845.74 74.68 L846.7 74.67 L847.65 74.66 L848.6 74.65 L849.53 74.64 L850.45 74.63 L851.37 74.62 L852.28 74.62 L853.18 74.61 L854.07 74.6 L854.95 74.59 L855.82 74.58 L856.69 74.58 L857.55 74.57 L858.4 74.56 L859.25 74.55 L860.08 74.55 L860.91 74.54 L861.74 74.53 L862.55 74.53 L863.36 74.52 L864.16 74.51 L864.96 74.51 L865.75 74.5 L866.53 74.5 L867.31 74.49 L868.08 74.49 L868.85 74.48 L869.61 74.48 L870.36 74.47 L871.11 74.47 L871.85 74.46 L872.58 74.46 L873.31 74.45 L874.04 74.45 L874.76 74.45 L875.47 74.44 L876.18 74.44 L876.89 74.44 L877.59 74.43 L878.28 74.43 L878.97 74.43 L879.65 74.42 L880.33 74.42 L881.01 74.42 L881.68 74.42 L882.34 74.42 L883.01 74.41 L883.66 74.41 L884.31 74.41 L884.96 74.41 L885.61 74.41 L886.25 74.41 L886.88 74.4 L887.51 74.4 L888.14 74.4 L888.76 74.4 L889 74.4"/>
<path class="g" d="M532.5 141.3 L552.61 148.99 L570.39 156.74 L585.43 164.03 L598.45 170.99 L609.94 177.23 L620.21 182.82 L629.51 187.72 L637.99 191.84 L645.8 195.45 L653.03 198.52 L659.75 201.03 L666.05 203.16 L671.96 204.85 L677.54 206.06 L682.81 206.95 L687.81 207.23 L692.57 206.87 L697.11 206.16 L701.44 205.26 L705.59 203.93 L709.57 202.25 L713.4 200.49 L717.08 198.83 L720.63 197.28 L724.05 195.74 L727.35 194.24 L730.55 192.78 L733.65 191.38 L736.65 190 L739.56 188.65 L742.39 187.34 L745.13 186.09 L747.81 184.94 L750.41 183.88 L752.94 182.94 L755.41 182.07 L757.82 181.27 L760.17 180.49 L762.46 179.72 L764.71 178.93 L766.9 178.09 L769.04 177.17 L771.14 176.21 L773.19 175.32 L775.2 174.61 L777.17 174.05 L779.1 173.59 L781 173.18 L782.85 172.81 L784.68 172.48 L786.47 172.17 L788.22 171.89 L789.95 171.63 L791.65 171.39 L793.31 171.18 L794.95 170.99 L796.57 170.81 L798.15 170.64 L799.71 170.5 L801.25 170.36 L802.76 170.23 L804.25 170.11 L805.71 169.99 L807.16 169.88 L808.58 169.78 L809.99 169.68 L811.37 169.59 L812.73 169.5 L814.08 169.42 L815.41 169.34 L816.72 169.27 L818.01 169.21 L819.28 169.14 L820.54 169.09 L821.78 169.04 L823.01 168.99 L824.22 168.95 L825.42 168.91 L826.6 168.88 L827.77 168.85 L828.92 168.82 L830.06 168.79 L831.19 168.76 L832.3 168.73 L833.41 168.7 L834.5 168.67 L835.57 168.65 L836.64 168.62 L837.69 168.59 L838.74 168.57 L839.77 168.54 L840.79 168.52 L841.8 168.5 L842.8 168.47 L843.79 168.45 L844.77 168.43 L845.74 168.41 L846.7 168.39 L847.65 168.37 L848.6 168.35 L849.53 168.33 L850.45 168.31 L851.37 168.29 L852.28 168.28 L853.18 168.26 L854.07 168.24 L854.95 168.23 L855.82 168.21 L856.69 168.2 L857.55 168.18 L858.4 168.17 L859.25 168.15 L860.08 168.14 L860.91 168.13 L861.74 168.12 L862.55 168.1 L863.36 168.09 L864.16 168.08 L864.96 168.07 L865.75 168.06 L866.53 168.05 L867.31 168.04 L868.08 168.03 L868.85 168.02 L869.61 168.01 L870.36 168 L871.11 168 L871.85 167.99 L872.58 167.98 L873.31 167.98 L874.04 167.97 L874.76 167.96 L875.47 167.96 L876.18 167.95 L876.89 167.95 L877.59 167.94 L878.28 167.94 L878.97 167.93 L879.65 167.93 L880.33 167.92 L881.01 167.92 L881.68 167.92 L882.34 167.92 L883.01 167.91 L883.66 167.91 L884.31 167.91 L884.96 167.91 L885.61 167.9 L886.25 167.9 L886.88 167.9 L887.51 167.9 L888.14 167.9 L888.76 167.9 L889 167.9"/>
<path class="g" d="M532.5 190.6 L552.61 202.26 L570.39 214.63 L585.43 226.67 L598.45 238.65 L609.94 250.75 L620.21 263.1 L629.51 274.14 L637.99 283.87 L645.8 292.47 L653.03 300.07 L659.75 306.98 L666.05 313.54 L671.96 319.51 L677.54 324.49 L682.81 328.8 L687.81 332.45 L692.57 335.13 L697.11 337.01 L701.44 338.55 L705.59 339.63 L709.57 340.1 L713.4 339.99 L717.08 339.48 L720.63 338.76 L724.05 337.93 L727.35 337.03 L730.55 335.94 L733.65 334.63 L736.65 333.19 L739.56 331.71 L742.39 330.3 L745.13 328.95 L747.81 327.62 L750.41 326.29 L752.94 324.99 L755.41 323.74 L757.82 322.57 L760.17 321.48 L762.46 320.46 L764.71 319.49 L766.9 318.57 L769.04 317.7 L771.14 316.87 L773.19 316.08 L775.2 315.35 L777.17 314.65 L779.1 313.99 L781 313.35 L782.85 312.74 L784.68 312.16 L786.47 311.62 L788.22 311.11 L789.95 310.63 L791.65 310.19 L793.31 309.78 L794.95 309.41 L796.57 309.05 L798.15 308.72 L799.71 308.4 L801.25 308.11 L802.76 307.83 L804.25 307.57 L805.71 307.33 L807.16 307.1 L808.58 306.9 L809.99 306.71 L811.37 306.54 L812.73 306.37 L814.08 306.21 L815.41 306.05 L816.72 305.9 L818.01 305.76 L819.28 305.62 L820.54 305.49 L821.78 305.36 L823.01 305.24 L824.22 305.12 L825.42 305.01 L826.6 304.9 L827.77 304.8 L828.92 304.71 L830.06 304.61 L831.19 304.53 L832.3 304.45 L833.41 304.37 L834.5 304.3 L835.57 304.23 L836.64 304.17 L837.69 304.12 L838.74 304.06 L839.77 304.01 L840.79 303.97 L841.8 303.92 L842.8 303.88 L843.79 303.84 L844.77 303.8 L845.74 303.76 L846.7 303.72 L847.65 303.68 L848.6 303.64 L849.53 303.61 L850.45 303.57 L851.37 303.54 L852.28 303.5 L853.18 303.47 L854.07 303.43 L854.95 303.4 L855.82 303.37 L856.69 303.34 L857.55 303.31 L858.4 303.28 L859.25 303.25 L860.08 303.23 L860.91 303.2 L861.74 303.17 L862.55 303.15 L863.36 303.12 L864.16 303.1 L864.96 303.08 L865.75 303.05 L866.53 303.03 L867.31 303.01 L868.08 302.99 L868.85 302.97 L869.61 302.95 L870.36 302.94 L871.11 302.92 L871.85 302.9 L872.58 302.89 L873.31 302.87 L874.04 302.86 L874.76 302.84 L875.47 302.83 L876.18 302.82 L876.89 302.8 L877.59 302.79 L878.28 302.78 L878.97 302.77 L879.65 302.76 L880.33 302.76 L881.01 302.75 L881.68 302.74 L882.34 302.73 L883.01 302.73 L883.66 302.72 L884.31 302.72 L884.96 302.71 L885.61 302.71 L886.25 302.71 L886.88 302.71 L887.51 302.7 L888.14 302.7 L888.76 302.7 L889 302.7"/>
<path class="g" d="M532.5 221.5 L552.61 237.86 L570.39 254.25 L585.43 269.62 L598.45 284.73 L609.94 300.13 L620.21 316.4 L629.51 332.84 L637.99 347.79 L645.8 361.48 L653.03 374.03 L659.75 385.83 L666.05 396.98 L671.96 407.15 L677.54 416.48 L682.81 424.64 L687.81 431.55 L692.57 437.53 L697.11 442.55 L701.44 446.8 L705.59 450.43 L709.57 453.52 L713.4 456.17 L717.08 458.39 L720.63 459.99 L724.05 461.06 L727.35 461.43 L730.55 461.07 L733.65 460.32 L736.65 459.42 L739.56 458.36 L742.39 457.13 L745.13 455.73 L747.81 454.14 L750.41 452.4 L752.94 450.62 L755.41 448.88 L757.82 447.27 L760.17 445.82 L762.46 444.52 L764.71 443.32 L766.9 442.19 L769.04 441.12 L771.14 440.11 L773.19 439.14 L775.2 438.22 L777.17 437.33 L779.1 436.47 L781 435.65 L782.85 434.85 L784.68 434.09 L786.47 433.36 L788.22 432.67 L789.95 432.01 L791.65 431.4 L793.31 430.81 L794.95 430.26 L796.57 429.73 L798.15 429.23 L799.71 428.75 L801.25 428.29 L802.76 427.85 L804.25 427.44 L805.71 427.05 L807.16 426.68 L808.58 426.34 L809.99 426.02 L811.37 425.71 L812.73 425.42 L814.08 425.14 L815.41 424.87 L816.72 424.61 L818.01 424.37 L819.28 424.13 L820.54 423.9 L821.78 423.68 L823.01 423.48 L824.22 423.28 L825.42 423.09 L826.6 422.91 L827.77 422.74 L828.92 422.58 L830.06 422.44 L831.19 422.29 L832.3 422.16 L833.41 422.03 L834.5 421.91 L835.57 421.79 L836.64 421.68 L837.69 421.57 L838.74 421.47 L839.77 421.37 L840.79 421.27 L841.8 421.17 L842.8 421.08 L843.79 420.99 L844.77 420.9 L845.74 420.82 L846.7 420.74 L847.65 420.66 L848.6 420.59 L849.53 420.51 L850.45 420.44 L851.37 420.37 L852.28 420.31 L853.18 420.24 L854.07 420.18 L854.95 420.12 L855.82 420.06 L856.69 420.01 L857.55 419.95 L858.4 419.9 L859.25 419.85 L860.08 419.8 L860.91 419.75 L861.74 419.7 L862.55 419.65 L863.36 419.61 L864.16 419.56 L864.96 419.52 L865.75 419.47 L866.53 419.43 L867.31 419.39 L868.08 419.35 L868.85 419.31 L869.61 419.27 L870.36 419.23 L871.11 419.19 L871.85 419.15 L872.58 419.12 L873.31 419.08 L874.04 419.05 L874.76 419.01 L875.47 418.98 L876.18 418.95 L876.89 418.92 L877.59 418.89 L878.28 418.86 L878.97 418.83 L879.65 418.8 L880.33 418.78 L881.01 418.75 L881.68 418.73 L882.34 418.7 L883.01 418.68 L883.66 418.66 L884.31 418.64 L884.96 418.62 L885.61 418.6 L886.25 418.58 L886.88 418.56 L887.51 418.54 L888.14 418.52 L888.76 418.51 L889 418.5"/>
<path class="r" d="M1092.5 429 L1109.74 525.21 L1124.48 632.67 L1136.94 717.56 L1147.74 788.51 L1157.26 851.99 L1165.78 882.16 L1173.48 890.62 L1180.52 877.4 L1186.99 842.66 L1192.98 797.98 L1198.56 745.33 L1203.77 689.72 L1208.67 642.06 L1213.3 606.12 L1217.67 578.05 L1221.81 558.79 L1225.76 548.23 L1229.52 541.23 L1233.11 534.18 L1236.55 525.06 L1239.85 511.79 L1243.02 492.45 L1246.07 470.14 L1249.02 447.47 L1251.85 431.61 L1254.59 418.09 L1257.24 409.18 L1259.81 409.07 L1262.3 416.67 L1264.71 429.17 L1267.05 441.85 L1269.33 454.26 L1271.55 465.74 L1273.7 471.69 L1275.8 473.33 L1277.85 468.83 L1279.85 463.4 L1281.79 457.41 L1283.7 453.72 L1285.56 452.24 L1287.37 454.49 L1289.15 458.2 L1290.89 463.96 L1292.59 468.43 L1294.26 471.66 L1295.89 473.6 L1297.49 473.16 L1299.06 468.48 L1300.6 462.26 L1302.11 455.76 L1303.6 450.28 L1305.05 446.84 L1306.48 445.96 L1307.89 447.53 L1309.27 450.89 L1310.63 454.95 L1311.97 458.53 L1313.28 460.61 L1314.57 460.56 L1315.85 458.3 L1317.1 454.28 L1318.33 449.39 L1319.55 444.68 L1320.75 441.15 L1321.93 439.49 L1323.09 439.92 L1324.24 442.17 L1325.37 445.54 L1326.48 449.07 L1327.58 451.81 L1328.67 453.02 L1329.74 452.36 L1330.8 449.96 L1331.84 446.34 L1332.87 442.34 L1333.89 438.85 L1334.89 436.63 L1335.88 436.11 L1336.86 437.31 L1337.83 439.83 L1338.79 442.97 L1339.73 445.89 L1340.67 447.83 L1341.59 448.3 L1342.51 447.15 L1343.41 444.65 L1344.3 441.38 L1345.19 438.1 L1346.06 435.56 L1346.92 434.31 L1347.78 434.58 L1348.63 436.24 L1349.46 438.81 L1350.29 441.6 L1351.11 443.91 L1351.93 445.15 L1352.73 444.99 L1353.53 443.48 L1354.32 440.97 L1355.1 438.05 L1355.87 435.42 L1356.64 433.66 L1357.4 433.17 L1358.15 434.01 L1358.89 435.91 L1359.63 438.39 L1360.36 440.79 L1361.09 442.51 L1361.81 443.13 L1362.52 442.48 L1363.23 440.73 L1363.93 438.29 L1364.62 435.74 L1365.31 433.7 L1365.99 432.61 L1366.67 432.71 L1367.34 433.94 L1368 435.96 L1368.66 438.24 L1369.32 440.22 L1369.97 441.39 L1370.61 441.47 L1371.25 440.45 L1371.88 438.56 L1372.51 436.27 L1373.14 434.12 L1373.76 432.62 L1374.37 432.1 L1374.98 432.67 L1375.59 434.15 L1376.19 436.16 L1376.78 438.19 L1377.38 439.73 L1377.97 440.4 L1378.55 440.04 L1379.13 438.74 L1379.7 436.82 L1380.28 434.73 L1380.84 432.99 L1381.41 431.99 L1381.97 431.96 L1382.52 432.88 L1383.07 434.51 L1383.62 436.42 L1384.17 438.15 L1384.71 439.25 L1385.24 439.47 L1385.78 438.76 L1386.31 437.28 L1386.83 435.4 L1387.36 433.57 L1387.88 432.24 L1388.39 431.7 L1388.91 432.07 L1389.42 433.24 L1389.92 434.91 L1390.43 436.66 L1390.93 438.06 L1391.43 438.75 L1391.92 438.58 L1392.41 437.59 L1392.9 436.02 L1393.39 434.25 L1393.87 432.72 L1394.35 431.78 L1394.82 431.65 L1395.3 432.35 L1395.77 433.68 L1396.24 435.32 L1396.7 436.85 L1397.17 437.89 L1397.63 438.2 L1398.09 437.7 L1398.54 436.52 L1399 434.94 L1399.45 433.35 L1399.89 432.13 L1400.34 431.57 L1400.78 431.79 L1401.22 432.73 L1401.66 434.14 L1402.1 435.67 L1402.53 436.95 L1402.96 437.65 L1403.39 437.61 L1403.82 436.85 L1404.24 435.54 L1404.66 434.02 L1405.08 432.65 L1405.5 431.75 L1405.92 431.54 L1406.33 432.06 L1406.74 433.17 L1407.15 434.59 L1407.56 435.96 L1407.96 436.96 L1408.37 437.33 L1408.77 436.99 L1409.17 436.02 L1409.56 434.67 L1409.96 433.26 L1410.35 432.13 L1410.74 431.56 L1411.13 431.67 L1411.52 432.42 L1411.91 433.63 L1412.29 434.99 L1412.67 436.16 L1413.05 436.87 L1413.43 436.93 L1413.81 436.34 L1414.19 435.24 L1414.56 433.9 L1414.93 432.66 L1415.3 431.8 L1415.67 431.53 L1416.04 431.91 L1416.4 432.84 L1416.76 434.08 L1417.13 435.33 L1417.49 436.27 L1417.84 436.69 L1418.2 436.47 L1418.56 435.68 L1418.91 434.51 L1419.26 433.25 L1419.61 432.2 L1419.96 431.61 L1420.31 431.63 L1420.66 432.23 L1421 433.27 L1421.34 434.49 L1421.69 435.58 L1422.03 436.28 L1422.37 436.42 L1422.7 435.97 L1423.04 435.04 L1423.37 433.85 L1423.71 432.71 L1424.04 431.88 L1424.37 431.56 L1424.7 431.83 L1425.03 432.61 L1425.35 433.7 L1425.68 434.84 L1426 435.75 L1426.33 436.2 L1426.65 436.08 L1426.97 435.43 L1427.29 434.41 L1427.6 433.27 L1427.92 432.29 L1428.24 431.69 L1428.55 431.63 L1428.86 432.11 L1429.17 433.02 L1429.48 434.11 L1429.79 435.13 L1430.1 435.82 L1430.41 436.02 L1430.71 435.68 L1431.02 434.89 L1431.32 433.84 L1431.62 432.78 L1431.92 431.98 L1432.22 431.63 L1432.52 431.8 L1432.82 432.45 L1433.12 433.42 L1433.41 434.47 L1433.71 435.33 L1434 435.81 L1434.29 435.77 L1434.59 435.24 L1434.88 434.35 L1435.17 433.31 L1435.45 432.38 L1435.74 431.79 L1436.03 431.66 L1436.31 432.04 L1436.6 432.82 L1436.88 433.81 L1437.16 434.77 L1437.44 435.45 L1437.72 435.7 L1438 435.46 L1438.28 434.78 L1438.56 433.84 L1438.83 432.86 L1439.11 432.09 L1439.38 431.7 L1439.66 431.8 L1439.93 432.34 L1440.2 433.21 L1440.47 434.17 L1440.74 435 L1441.01 435.49 L1441.28 435.52 L1441.55 435.09 L1441.81 434.31 L1442.08 433.36 L1442.34 432.48 L1442.61 431.89 L1442.87 431.71 L1443.13 432 L1443.39 432.68 L1443.65 433.58 L1443.91 434.47 L1444.17 435.15 L1444.43 435.44 L1444.69 435.27 L1444.94 434.7 L1445.2 433.85 L1445.45 432.94 L1445.71 432.19 L1445.96 431.78 L1446.21 431.81 L1446.46 432.27 L1446.71 433.03 L1446.96 433.92 L1447.21 434.72 L1447.46 435.22 L1447.71 435.31 L1447.96 434.97 L1448.2 434.28 L1448.45 433.41 L1448.69 432.58 L1448.94 431.99 L1449.18 431.77 L1449.42 431.98 L1449.66 432.57 L1449.9 433.38 L1450.14 434.23 L1450.38 434.89 L1450.62 435.21 L1450.86 435.11 L1451.1 434.63 L1451.34 433.87 L1451.57 433.02 L1451.81 432.3 L1452.04 431.87 L1452.28 431.84 L1452.51 432.21 L1452.74 432.89 L1452.97 433.72 L1453.2 434.48 L1453.44 434.99 L1453.67 435.13 L1453.89 434.86 L1454.12 434.26 L1454.35 433.47 L1454.58 432.68 L1454.81 432.08 L1455.03 431.83 L1455.26 431.98 L1455.48 432.48 L1455.71 433.22 L1455.93 434.02 L1456.15 434.67 L1456.38 435.01 L1456.6 434.98 L1456.82 434.57 L1457.04 433.88 L1457.26 433.1 L1457.48 432.4 L1457.7 431.95 L1457.92 431.87 L1458.13 432.18 L1458.35 432.78 L1458.57 433.54 L1458.78 434.27 L1459 434.79 L1459.21 434.97 L1459.43 434.77 L1459.64 434.24 L1459.85 433.52 L1460.07 432.77 L1460.28 432.18 L1460.49 431.9 L1460.7 431.98 L1460.91 432.42 L1461.12 433.09 L1461.33 433.84 L1461.54 434.47 L1461.75 434.84 L1461.95 434.86 L1462.16 434.52 L1462.37 433.9 L1462.57 433.17 L1462.78 432.49 L1462.98 432.04 L1463.19 431.92 L1463.39 432.15 L1463.59 432.69 L1463.8 433.39 L1464 434.09"/>
<path class="g" d="M1092.5 305.8 L1109.74 339.58 L1124.48 372.44 L1136.94 401.15 L1147.74 428.15 L1157.26 453.54 L1165.78 475.35 L1173.48 493.03 L1180.52 507.86 L1186.99 520.05 L1192.98 529.34 L1198.56 536.26 L1203.77 540.65 L1208.67 543.13 L1213.3 542.96 L1217.67 541.33 L1221.81 538.63 L1225.76 534.72 L1229.52 530.21 L1233.11 525.03 L1236.55 519.48 L1239.85 513.56 L1243.02 507.68 L1246.07 502.07 L1249.02 496.74 L1251.85 491.94 L1254.59 487.71 L1257.24 483.93 L1259.81 480.62 L1262.3 477.75 L1264.71 475.2 L1267.05 473.02 L1269.33 471.21 L1271.55 469.7 L1273.7 468.4 L1275.8 467.27 L1277.85 466.3 L1279.85 465.47 L1281.79 464.72 L1283.7 464.01 L1285.56 463.29 L1287.37 462.57 L1289.15 461.85 L1290.89 461.14 L1292.59 460.42 L1294.26 459.7 L1295.89 458.96 L1297.49 458.22 L1299.06 457.49 L1300.6 456.81 L1302.11 456.18 L1303.6 455.6 L1305.05 455.07 L1306.48 454.56 L1307.89 454.06 L1309.27 453.56 L1310.63 453.06 L1311.97 452.54 L1313.28 452.01 L1314.57 451.49 L1315.85 450.99 L1317.1 450.53 L1318.33 450.12 L1319.55 449.75 L1320.75 449.43 L1321.93 449.14 L1323.09 448.86 L1324.24 448.6 L1325.37 448.34 L1326.48 448.07 L1327.58 447.79 L1328.67 447.51 L1329.74 447.21 L1330.8 446.91 L1331.84 446.6 L1332.87 446.29 L1333.89 445.98 L1334.89 445.67 L1335.88 445.36 L1336.86 445.05 L1337.83 444.75 L1338.79 444.45 L1339.73 444.15 L1340.67 443.86 L1341.59 443.58 L1342.51 443.31 L1343.41 443.04 L1344.3 442.78 L1345.19 442.53 L1346.06 442.29 L1346.92 442.05 L1347.78 441.82 L1348.63 441.6 L1349.46 441.38 L1350.29 441.16 L1351.11 440.95 L1351.93 440.74 L1352.73 440.53 L1353.53 440.32 L1354.32 440.12 L1355.1 439.92 L1355.87 439.73 L1356.64 439.54 L1357.4 439.36 L1358.15 439.19 L1358.89 439.01 L1359.63 438.85 L1360.36 438.69 L1361.09 438.53 L1361.81 438.38 L1362.52 438.24 L1363.23 438.11 L1363.93 437.98 L1364.62 437.86 L1365.31 437.74 L1365.99 437.63 L1366.67 437.52 L1367.34 437.42 L1368 437.32 L1368.66 437.23 L1369.32 437.13 L1369.97 437.04 L1370.61 436.96 L1371.25 436.87 L1371.88 436.79 L1372.51 436.71 L1373.14 436.63 L1373.76 436.56 L1374.37 436.48 L1374.98 436.41 L1375.59 436.34 L1376.19 436.27 L1376.78 436.21 L1377.38 436.14 L1377.97 436.08 L1378.55 436.02 L1379.13 435.96 L1379.7 435.9 L1380.28 435.85 L1380.84 435.79 L1381.41 435.74 L1381.97 435.68 L1382.52 435.63 L1383.07 435.58 L1383.62 435.53 L1384.17 435.48 L1384.71 435.44 L1385.24 435.39 L1385.78 435.34 L1386.31 435.3 L1386.83 435.25 L1387.36 435.21 L1387.88 435.17 L1388.39 435.12 L1388.91 435.08 L1389.42 435.04 L1389.92 435 L1390.43 434.96 L1390.93 434.92 L1391.43 434.88 L1391.92 434.84 L1392.41 434.81 L1392.9 434.77 L1393.39 434.73 L1393.87 434.7 L1394.35 434.67 L1394.82 434.63 L1395.3 434.6 L1395.77 434.57 L1396.24 434.53 L1396.7 434.5 L1397.17 434.47 L1397.63 434.45 L1398.09 434.42 L1398.54 434.39 L1399 434.36 L1399.45 434.34 L1399.89 434.31 L1400.34 434.29 L1400.78 434.26 L1401.22 434.24 L1401.66 434.22 L1402.1 434.2 L1402.53 434.18 L1402.96 434.16 L1403.39 434.14 L1403.82 434.12 L1404.24 434.1 L1404.66 434.08 L1405.08 434.07 L1405.5 434.05 L1405.92 434.03 L1406.33 434.02 L1406.74 434 L1407.15 433.99 L1407.56 433.97 L1407.96 433.96 L1408.37 433.95 L1408.77 433.93 L1409.17 433.92 L1409.56 433.9 L1409.96 433.89 L1410.35 433.88 L1410.74 433.86 L1411.13 433.85 L1411.52 433.84 L1411.91 433.83 L1412.29 433.82 L1412.67 433.8 L1413.05 433.79 L1413.43 433.78 L1413.81 433.77 L1414.19 433.76 L1414.56 433.75 L1414.93 433.74 L1415.3 433.73 L1415.67 433.72 L1416.04 433.71 L1416.4 433.7 L1416.76 433.69 L1417.13 433.68 L1417.49 433.67 L1417.84 433.66 L1418.2 433.65 L1418.56 433.64 L1418.91 433.63 L1419.26 433.62 L1419.61 433.61 L1419.96 433.61 L1420.31 433.6 L1420.66 433.59 L1421 433.58 L1421.34 433.57 L1421.69 433.57 L1422.03 433.56 L1422.37 433.55 L1422.7 433.54 L1423.04 433.53 L1423.37 433.53 L1423.71 433.52 L1424.04 433.51 L1424.37 433.51 L1424.7 433.5 L1425.03 433.49 L1425.35 433.48 L1425.68 433.48 L1426 433.47 L1426.33 433.46 L1426.65 433.46 L1426.97 433.45 L1427.29 433.44 L1427.6 433.44 L1427.92 433.43 L1428.24 433.43 L1428.55 433.42 L1428.86 433.41 L1429.17 433.41 L1429.48 433.4 L1429.79 433.39 L1430.1 433.39 L1430.41 433.38 L1430.71 433.38 L1431.02 433.37 L1431.32 433.37 L1431.62 433.36 L1431.92 433.35 L1432.22 433.35 L1432.52 433.34 L1432.82 433.34 L1433.12 433.33 L1433.41 433.33 L1433.71 433.32 L1434 433.31 L1434.29 433.31 L1434.59 433.3 L1434.88 433.3 L1435.17 433.29 L1435.45 433.29 L1435.74 433.28 L1436.03 433.28 L1436.31 433.27 L1436.6 433.27 L1436.88 433.26 L1437.16 433.26 L1437.44 433.25 L1437.72 433.25 L1438 433.24 L1438.28 433.24 L1438.56 433.23 L1438.83 433.23 L1439.11 433.22 L1439.38 433.22 L1439.66 433.21 L1439.93 433.21 L1440.2 433.2 L1440.47 433.2 L1440.74 433.19 L1441.01 433.19 L1441.28 433.18 L1441.55 433.18 L1441.81 433.18 L1442.08 433.17 L1442.34 433.17 L1442.61 433.16 L1442.87 433.16 L1443.13 433.15 L1443.39 433.15 L1443.65 433.15 L1443.91 433.14 L1444.17 433.14 L1444.43 433.13 L1444.69 433.13 L1444.94 433.12 L1445.2 433.12 L1445.45 433.12 L1445.71 433.11 L1445.96 433.11 L1446.21 433.1 L1446.46 433.1 L1446.71 433.1 L1446.96 433.09 L1447.21 433.09 L1447.46 433.09 L1447.71 433.08 L1447.96 433.08 L1448.2 433.08 L1448.45 433.07 L1448.69 433.07 L1448.94 433.06 L1449.18 433.06 L1449.42 433.06 L1449.66 433.05 L1449.9 433.05 L1450.14 433.05 L1450.38 433.04 L1450.62 433.04 L1450.86 433.04 L1451.1 433.03 L1451.34 433.03 L1451.57 433.03 L1451.81 433.02 L1452.04 433.02 L1452.28 433.02 L1452.51 433.02 L1452.74 433.01 L1452.97 433.01 L1453.2 433.01 L1453.44 433 L1453.67 433 L1453.89 433 L1454.12 433 L1454.35 432.99 L1454.58 432.99 L1454.81 432.99 L1455.03 432.98 L1455.26 432.98 L1455.48 432.98 L1455.71 432.98 L1455.93 432.97 L1456.15 432.97 L1456.38 432.97 L1456.6 432.97 L1456.82 432.96 L1457.04 432.96 L1457.26 432.96 L1457.48 432.96 L1457.7 432.96 L1457.92 432.95 L1458.13 432.95 L1458.35 432.95 L1458.57 432.95 L1458.78 432.94 L1459 432.94 L1459.21 432.94 L1459.43 432.94 L1459.64 432.94 L1459.85 432.93 L1460.07 432.93 L1460.28 432.93 L1460.49 432.93 L1460.7 432.93 L1460.91 432.92 L1461.12 432.92 L1461.33 432.92 L1461.54 432.92 L1461.75 432.92 L1461.95 432.92 L1462.16 432.91 L1462.37 432.91 L1462.57 432.91 L1462.78 432.91 L1462.98 432.91 L1463.19 432.91 L1463.39 432.9 L1463.59 432.9 L1463.8 432.9 L1464 432.9"/>
<path class="b" d="M1092.5 186.4 L1109.74 199.91 L1124.48 214.44 L1136.94 227.92 L1147.74 240.17 L1157.26 252.14 L1165.78 264.45 L1173.48 276.5 L1180.52 287.89 L1186.99 297.87 L1192.98 307.91 L1198.56 318.48 L1203.77 328.05 L1208.67 337.03 L1213.3 345.62 L1217.67 353.59 L1221.81 360.73 L1225.76 367.27 L1229.52 373.52 L1233.11 379.61 L1236.55 385.34 L1239.85 390.59 L1243.02 395.41 L1246.07 399.89 L1249.02 404.07 L1251.85 407.98 L1254.59 411.64 L1257.24 415.08 L1259.81 418.31 L1262.3 421.39 L1264.71 424.27 L1267.05 426.87 L1269.33 429.16 L1271.55 431.17 L1273.7 433 L1275.8 434.67 L1277.85 436.23 L1279.85 437.73 L1281.79 439.18 L1283.7 440.55 L1285.56 441.78 L1287.37 442.83 L1289.15 443.71 L1290.89 444.47 L1292.59 445.13 L1294.26 445.72 L1295.89 446.22 L1297.49 446.63 L1299.06 446.97 L1300.6 447.27 L1302.11 447.53 L1303.6 447.76 L1305.05 447.95 L1306.48 448.08 L1307.89 448.16 L1309.27 448.18 L1310.63 448.16 L1311.97 448.12 L1313.28 448.06 L1314.57 447.99 L1315.85 447.9 L1317.1 447.81 L1318.33 447.7 L1319.55 447.56 L1320.75 447.38 L1321.93 447.17 L1323.09 446.92 L1324.24 446.66 L1325.37 446.4 L1326.48 446.14 L1327.58 445.9 L1328.67 445.68 L1329.74 445.46 L1330.8 445.26 L1331.84 445.06 L1332.87 444.86 L1333.89 444.67 L1334.89 444.48 L1335.88 444.29 L1336.86 444.09 L1337.83 443.9 L1338.79 443.7 L1339.73 443.5 L1340.67 443.29 L1341.59 443.08 L1342.51 442.86 L1343.41 442.64 L1344.3 442.4 L1345.19 442.17 L1346.06 441.94 L1346.92 441.7 L1347.78 441.47 L1348.63 441.25 L1349.46 441.03 L1350.29 440.82 L1351.11 440.62 L1351.93 440.43 L1352.73 440.26 L1353.53 440.09 L1354.32 439.93 L1355.1 439.78 L1355.87 439.63 L1356.64 439.49 L1357.4 439.36 L1358.15 439.23 L1358.89 439.1 L1359.63 438.98 L1360.36 438.86 L1361.09 438.74 L1361.81 438.63 L1362.52 438.51 L1363.23 438.4 L1363.93 438.3 L1364.62 438.19 L1365.31 438.09 L1365.99 437.99 L1366.67 437.89 L1367.34 437.79 L1368 437.69 L1368.66 437.59 L1369.32 437.49 L1369.97 437.4 L1370.61 437.3 L1371.25 437.21 L1371.88 437.11 L1372.51 437.02 L1373.14 436.92 L1373.76 436.83 L1374.37 436.74 L1374.98 436.65 L1375.59 436.57 L1376.19 436.48 L1376.78 436.4 L1377.38 436.31 L1377.97 436.23 L1378.55 436.16 L1379.13 436.08 L1379.7 436 L1380.28 435.93 L1380.84 435.86 L1381.41 435.8 L1381.97 435.73 L1382.52 435.67 L1383.07 435.61 L1383.62 435.55 L1384.17 435.5 L1384.71 435.44 L1385.24 435.39 L1385.78 435.34 L1386.31 435.29 L1386.83 435.25 L1387.36 435.2 L1387.88 435.16 L1388.39 435.11 L1388.91 435.07 L1389.42 435.03 L1389.92 434.99 L1390.43 434.95 L1390.93 434.91 L1391.43 434.87 L1391.92 434.83 L1392.41 434.79 L1392.9 434.76 L1393.39 434.72 L1393.87 434.69 L1394.35 434.65 L1394.82 434.62 L1395.3 434.59 L1395.77 434.56 L1396.24 434.53 L1396.7 434.5 L1397.17 434.47 L1397.63 434.44 L1398.09 434.41 L1398.54 434.38 L1399 434.36 L1399.45 434.33 L1399.89 434.31 L1400.34 434.28 L1400.78 434.26 L1401.22 434.24 L1401.66 434.22 L1402.1 434.2 L1402.53 434.18 L1402.96 434.16 L1403.39 434.14 L1403.82 434.12 L1404.24 434.1 L1404.66 434.08 L1405.08 434.07 L1405.5 434.05 L1405.92 434.03 L1406.33 434.02 L1406.74 434 L1407.15 433.99 L1407.56 433.97 L1407.96 433.96 L1408.37 433.95 L1408.77 433.93 L1409.17 433.92 L1409.56 433.9 L1409.96 433.89 L1410.35 433.88 L1410.74 433.86 L1411.13 433.85 L1411.52 433.84 L1411.91 433.83 L1412.29 433.82 L1412.67 433.8 L1413.05 433.79 L1413.43 433.78 L1413.81 433.77 L1414.19 433.76 L1414.56 433.75 L1414.93 433.74 L1415.3 433.73 L1415.67 433.72 L1416.04 433.71 L1416.4 433.7 L1416.76 433.69 L1417.13 433.68 L1417.49 433.67 L1417.84 433.66 L1418.2 433.65 L1418.56 433.64 L1418.91 433.63 L1419.26 433.62 L1419.61 433.61 L1419.96 433.61 L1420.31 433.6 L1420.66 433.59 L1421 433.58 L1421.34 433.57 L1421.69 433.57 L1422.03 433.56 L1422.37 433.55 L1422.7 433.54 L1423.04 433.53 L1423.37 433.53 L1423.71 433.52 L1424.04 433.51 L1424.37 433.51 L1424.7 433.5 L1425.03 433.49 L1425.35 433.48 L1425.68 433.48 L1426 433.47 L1426.33 433.46 L1426.65 433.46 L1426.97 433.45 L1427.29 433.44 L1427.6 433.44 L1427.92 433.43 L1428.24 433.43 L1428.55 433.42 L1428.86 433.41 L1429.17 433.41 L1429.48 433.4 L1429.79 433.39 L1430.1 433.39 L1430.41 433.38 L1430.71 433.38 L1431.02 433.37 L1431.32 433.37 L1431.62 433.36 L1431.92 433.35 L1432.22 433.35 L1432.52 433.34 L1432.82 433.34 L1433.12 433.33 L1433.41 433.33 L1433.71 433.32 L1434 433.31 L1434.29 433.31 L1434.59 433.3 L1434.88 433.3 L1435.17 433.29 L1435.45 433.29 L1435.74 433.28 L1436.03 433.28 L1436.31 433.27 L1436.6 433.27 L1436.88 433.26 L1437.16 433.26 L1437.44 433.25 L1437.72 433.25 L1438 433.24 L1438.28 433.24 L1438.56 433.23 L1438.83 433.23 L1439.11 433.22 L1439.38 433.22 L1439.66 433.21 L1439.93 433.21 L1440.2 433.2 L1440.47 433.2 L1440.74 433.19 L1441.01 433.19 L1441.28 433.18 L1441.55 433.18 L1441.81 433.18 L1442.08 433.17 L1442.34 433.17 L1442.61 433.16 L1442.87 433.16 L1443.13 433.15 L1443.39 433.15 L1443.65 433.15 L1443.91 433.14 L1444.17 433.14 L1444.43 433.13 L1444.69 433.13 L1444.94 433.12 L1445.2 433.12 L1445.45 433.12 L1445.71 433.11 L1445.96 433.11 L1446.21 433.1 L1446.46 433.1 L1446.71 433.1 L1446.96 433.09 L1447.21 433.09 L1447.46 433.09 L1447.71 433.08 L1447.96 433.08 L1448.2 433.08 L1448.45 433.07 L1448.69 433.07 L1448.94 433.06 L1449.18 433.06 L1449.42 433.06 L1449.66 433.05 L1449.9 433.05 L1450.14 433.05 L1450.38 433.04 L1450.62 433.04 L1450.86 433.04 L1451.1 433.03 L1451.34 433.03 L1451.57 433.03 L1451.81 433.02 L1452.04 433.02 L1452.28 433.02 L1452.51 433.02 L1452.74 433.01 L1452.97 433.01 L1453.2 433.01 L1453.44 433 L1453.67 433 L1453.89 433 L1454.12 433 L1454.35 432.99 L1454.58 432.99 L1454.81 432.99 L1455.03 432.98 L1455.26 432.98 L1455.48 432.98 L1455.71 432.98 L1455.93 432.97 L1456.15 432.97 L1456.38 432.97 L1456.6 432.97 L1456.82 432.96 L1457.04 432.96 L1457.26 432.96 L1457.48 432.96 L1457.7 432.96 L1457.92 432.95 L1458.13 432.95 L1458.35 432.95 L1458.57 432.95 L1458.78 432.94 L1459 432.94 L1459.21 432.94 L1459.43 432.94 L1459.64 432.94 L1459.85 432.93 L1460.07 432.93 L1460.28 432.93 L1460.49 432.93 L1460.7 432.93 L1460.91 432.92 L1461.12 432.92 L1461.33 432.92 L1461.54 432.92 L1461.75 432.92 L1461.95 432.92 L1462.16 432.91 L1462.37 432.91 L1462.57 432.91 L1462.78 432.91 L1462.98 432.91 L1463.19 432.91 L1463.39 432.9 L1463.59 432.9 L1463.8 432.9 L1464 432.9"/>
<path d="M174.7 938.4L174.7 924.9 M174.7 14L174.7 27.5 M241.83 938.4L241.83 931.65 M241.83 14L241.83 20.75 M281.1 938.4L281.1 931.65 M281.1 14L281.1 20.75 M308.96 938.4L308.96 931.65 M308.96 14L308.96 20.75 M330.57 938.4L330.57 931.65 M330.57 14L330.57 20.75 M348.23 938.4L348.23 931.65 M348.23 14L348.23 20.75 M363.16 938.4L363.16 931.65 M363.16 14L363.16 20.75 M376.09 938.4L376.09 931.65 M376.09 14L376.09 20.75 M387.5 938.4L387.5 931.65 M387.5 14L387.5 20.75 M397.7 938.4L397.7 924.9 M397.7 14L397.7 27.5 M464.83 938.4L464.83 931.65 M464.83 14L464.83 20.75 M504.1 938.4L504.1 931.65 M504.1 14L504.1 20.75 M531.96 938.4L531.96 931.65 M531.96 14L531.96 20.75 M174.7 14L188.2 14 M532 14L518.5 14 M174.7 129.55L188.2 129.55 M532 129.55L518.5 129.55 M174.7 245.1L188.2 245.1 M532 245.1L518.5 245.1 M174.7 360.65L188.2 360.65 M532 360.65L518.5 360.65 M174.7 476.2L188.2 476.2 M532 476.2L518.5 476.2 M174.7 591.75L188.2 591.75 M532 591.75L518.5 591.75 M174.7 707.3L188.2 707.3 M532 707.3L518.5 707.3 M174.7 822.85L188.2 822.85 M532 822.85L518.5 822.85 M174.7 938.4L188.2 938.4 M532 938.4L518.5 938.4" stroke="#000" stroke-width="2.5" fill="none"/>
<rect x="174.7" y="14" width="357.3" height="924.4" fill="none" stroke="#000" stroke-width="2.7"/>
<path d="M530.85 938.4L530.85 924.9 M530.85 14L530.85 27.5 M598.45 938.4L598.45 931.65 M598.45 14L598.45 20.75 M637.99 938.4L637.99 931.65 M637.99 14L637.99 20.75 M666.05 938.4L666.05 931.65 M666.05 14L666.05 20.75 M687.81 938.4L687.81 931.65 M687.81 14L687.81 20.75 M705.59 938.4L705.59 931.65 M705.59 14L705.59 20.75 M720.63 938.4L720.63 931.65 M720.63 14L720.63 20.75 M733.65 938.4L733.65 931.65 M733.65 14L733.65 20.75 M745.13 938.4L745.13 931.65 M745.13 14L745.13 20.75 M755.41 938.4L755.41 924.9 M755.41 14L755.41 27.5 M823.01 938.4L823.01 931.65 M823.01 14L823.01 20.75 M862.55 938.4L862.55 931.65 M862.55 14L862.55 20.75 M890.61 938.4L890.61 931.65 M890.61 14L890.61 20.75 M890.6 14L877.1 14 M890.6 129.55L877.1 129.55 M890.6 245.1L877.1 245.1 M890.6 360.65L877.1 360.65 M890.6 476.2L877.1 476.2 M890.6 591.75L877.1 591.75 M890.6 707.3L877.1 707.3 M890.6 822.85L877.1 822.85 M890.6 938.4L877.1 938.4" stroke="#000" stroke-width="2.5" fill="none"/>
<rect x="530.85" y="14" width="359.75" height="924.4" fill="none" stroke="#000" stroke-width="2.7"/>
<path d="M1091.7 938.4L1091.7 924.9 M1091.7 14.2L1091.7 27.7 M1147.74 938.4L1147.74 931.65 M1147.74 14.2L1147.74 20.95 M1180.52 938.4L1180.52 931.65 M1180.52 14.2L1180.52 20.95 M1203.77 938.4L1203.77 931.65 M1203.77 14.2L1203.77 20.95 M1221.81 938.4L1221.81 931.65 M1221.81 14.2L1221.81 20.95 M1236.55 938.4L1236.55 931.65 M1236.55 14.2L1236.55 20.95 M1249.02 938.4L1249.02 931.65 M1249.02 14.2L1249.02 20.95 M1259.81 938.4L1259.81 931.65 M1259.81 14.2L1259.81 20.95 M1269.33 938.4L1269.33 931.65 M1269.33 14.2L1269.33 20.95 M1277.85 938.4L1277.85 924.9 M1277.85 14.2L1277.85 27.7 M1333.89 938.4L1333.89 931.65 M1333.89 14.2L1333.89 20.95 M1366.67 938.4L1366.67 931.65 M1366.67 14.2L1366.67 20.95 M1389.92 938.4L1389.92 931.65 M1389.92 14.2L1389.92 20.95 M1407.96 938.4L1407.96 931.65 M1407.96 14.2L1407.96 20.95 M1422.7 938.4L1422.7 931.65 M1422.7 14.2L1422.7 20.95 M1435.17 938.4L1435.17 931.65 M1435.17 14.2L1435.17 20.95 M1445.96 938.4L1445.96 931.65 M1445.96 14.2L1445.96 20.95 M1455.48 938.4L1455.48 931.65 M1455.48 14.2L1455.48 20.95 M1464 938.4L1464 924.9 M1464 14.2L1464 27.7 M1091.7 14.2L1105.2 14.2 M1464.1 14.2L1450.6 14.2 M1091.7 199.04L1105.2 199.04 M1464.1 199.04L1450.6 199.04 M1091.7 383.88L1105.2 383.88 M1464.1 383.88L1450.6 383.88 M1091.7 568.72L1105.2 568.72 M1464.1 568.72L1450.6 568.72 M1091.7 753.56L1105.2 753.56 M1464.1 753.56L1450.6 753.56 M1091.7 938.4L1105.2 938.4 M1464.1 938.4L1450.6 938.4" stroke="#000" stroke-width="2.5" fill="none"/>
<rect x="1091.7" y="14.2" width="372.4" height="924.2" fill="none" stroke="#000" stroke-width="2.7"/>
<path d="M531.5 12.65 V939.75" stroke="#000" stroke-width="4" fill="none"/>
<text class="h" x="151.4" y="27.1" text-anchor="end">0</text>
<text class="h" x="151.4" y="142.65" text-anchor="end">-0.1</text>
<text class="h" x="151.4" y="258.2" text-anchor="end">-0.2</text>
<text class="h" x="151.4" y="373.75" text-anchor="end">-0.3</text>
<text class="h" x="151.4" y="489.3" text-anchor="end">-0.4</text>
<text class="h" x="151.4" y="604.85" text-anchor="end">-0.5</text>
<text class="h" x="151.4" y="720.4" text-anchor="end">-0.6</text>
<text class="h" x="151.4" y="835.95" text-anchor="end">-0.7</text>
<text class="h" x="151.4" y="951.5" text-anchor="end">-0.8</text>
<text class="h" x="1068.2" y="27.3" text-anchor="end">-0.02</text>
<text class="h" x="1068.2" y="212.14" text-anchor="end">-0.03</text>
<text class="h" x="1068.2" y="396.98" text-anchor="end">-0.04</text>
<text class="h" x="1068.2" y="581.82" text-anchor="end">-0.05</text>
<text class="h" x="1068.2" y="766.66" text-anchor="end">-0.06</text>
<text class="h" x="1068.2" y="951.5" text-anchor="end">-0.07</text>
<text class="h" x="180.3" y="990.6" text-anchor="middle">1</text>
<text class="h" x="403.2" y="990.6" text-anchor="middle">10</text>
<text class="h" x="537.3" y="990.6" text-anchor="middle">1</text>
<text class="h" x="760.3" y="990.6" text-anchor="middle">10</text>
<text class="h" x="1097.3" y="990.6" text-anchor="middle">1</text>
<text class="h" x="1283.4" y="990.6" text-anchor="middle">10</text>
<text class="h" x="1502" y="990.6" text-anchor="end">100</text>
<text class="t" style="font-size:37.8px" transform="translate(28.4 478) rotate(-90)" text-anchor="middle">I(n,l)</text>
<text class="t" style="font-size:37.8px" transform="translate(961.4 478) rotate(-90)" text-anchor="middle">I(n,l)</text>
<text class="h" x="336" y="1044.5"><tspan style="font-family:'Liberation Serif',serif;font-size:43.5px;stroke:#000;stroke-width:0.7">ζ</tspan><tspan dy="11.5" style="font-size:31.52px">c</tspan></text>
<text class="h" x="693.3" y="1044.5"><tspan style="font-family:'Liberation Serif',serif;font-size:43.5px;stroke:#000;stroke-width:0.7">ζ</tspan><tspan dy="11.5" style="font-size:31.52px">c</tspan></text>
<text class="h" x="1260.2" y="1044.5"><tspan style="font-family:'Liberation Serif',serif;font-size:43.5px;stroke:#000;stroke-width:0.7">ζ</tspan><tspan dy="11.5" style="font-size:31.52px">c</tspan></text>
<text class="h" x="464.2" y="96.4"><tspan class="t">l</tspan>=2</text>
<text class="h" x="464.2" y="270"><tspan class="t">l</tspan>=3</text>
<text class="h" x="464.2" y="419.6"><tspan class="t">l</tspan>=4</text>
<text class="h" x="464.2" y="523.7"><tspan class="t">l</tspan>=5</text>
<text class="h" x="464.2" y="604.3"><tspan class="t">l</tspan>=6</text>
<text class="h" x="464.2" y="663"><tspan class="t">l</tspan>=7</text>
<text class="h" x="822" y="61.1"><tspan class="t">l</tspan>=2</text>
<text class="h" x="822" y="153.1"><tspan class="t">l</tspan>=3</text>
<text class="h" x="822" y="281.1"><tspan class="t">l</tspan>=4</text>
<text class="h" x="822" y="396.2"><tspan class="t">l</tspan>=5</text>
<text class="h" x="822" y="489.6"><tspan class="t">l</tspan>=6</text>
<text class="h" x="822" y="569.4"><tspan class="t">l</tspan>=7</text>
<text class="h" x="1367" y="397"><tspan class="t">l</tspan>=2</text>
<text class="h" x="448.6" y="906.2" text-anchor="start">(a)</text>
<text class="h" x="806.5" y="906" text-anchor="start">(b)</text>
<text class="h" x="1390" y="906.2" text-anchor="start">(c)</text>
</svg>
</body></html>
